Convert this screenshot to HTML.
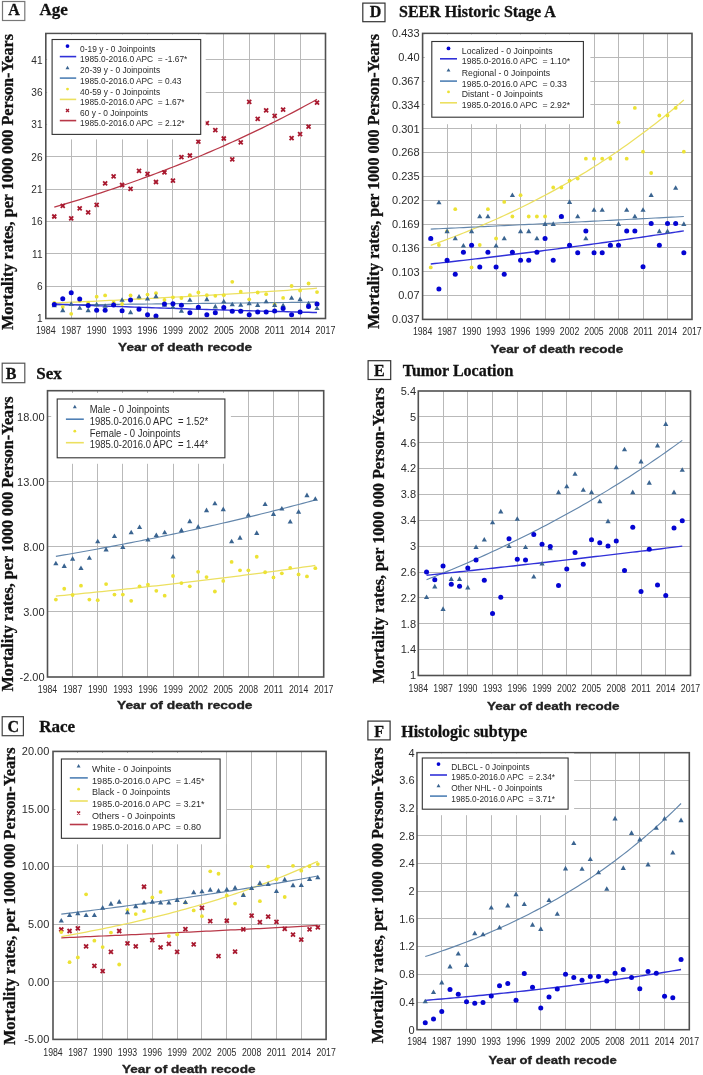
<!DOCTYPE html>
<html><head><meta charset="utf-8"><style>
html,body{margin:0;padding:0;background:#fff;}
svg{display:block;filter:blur(0.35px);}
.sb{font-family:"Liberation Serif",serif;font-weight:bold;fill:#111;stroke:#111;stroke-width:0.3px;}
.ss{font-family:"Liberation Sans",sans-serif;}
.sbold{font-family:"Liberation Sans",sans-serif;font-weight:bold;stroke:#222;stroke-width:0.35px;}
</style></head><body>
<svg width="703" height="1075" viewBox="0 0 703 1075">
<rect width="703" height="1075" fill="#fff"/>
<rect x="2.5" y="1.5" width="22.3" height="19" fill="#fff" stroke="#777" stroke-width="1.2"/>
<text x="14" y="15.4" text-anchor="middle" class="sb" font-size="16">A</text>
<text x="39.6" y="15.4" class="sb" font-size="17">Age</text>
<text transform="translate(12.9,182) rotate(-90)" x="0" y="0" text-anchor="middle" class="sb" font-size="16.2" textLength="296" lengthAdjust="spacingAndGlyphs">Mortality rates, per 1000 000 Person-Years</text>
<path d="M71.5 33.5V318.5M96.5 33.5V318.5M122.5 33.5V318.5M147.5 33.5V318.5M172.5 33.5V318.5M198.5 33.5V318.5M223.5 33.5V318.5M249.5 33.5V318.5M274.5 33.5V318.5M300.5 33.5V318.5M45.8 286.5H325.5M45.8 253.5H325.5M45.8 221.5H325.5M45.8 189.5H325.5M45.8 156.5H325.5M45.8 124.5H325.5M45.8 92.5H325.5M45.8 59.5H325.5" stroke="#b9b9b9" stroke-width="1" fill="none"/>
<text transform="translate(42.6,322.35) scale(0.92,1)" text-anchor="end" class="ss" font-size="11" fill="#2b2b2b">1</text>
<text transform="translate(42.6,290) scale(0.92,1)" text-anchor="end" class="ss" font-size="11" fill="#2b2b2b">6</text>
<text transform="translate(42.6,257.65) scale(0.92,1)" text-anchor="end" class="ss" font-size="11" fill="#2b2b2b">11</text>
<text transform="translate(42.6,225.3) scale(0.92,1)" text-anchor="end" class="ss" font-size="11" fill="#2b2b2b">16</text>
<text transform="translate(42.6,192.95) scale(0.92,1)" text-anchor="end" class="ss" font-size="11" fill="#2b2b2b">21</text>
<text transform="translate(42.6,160.6) scale(0.92,1)" text-anchor="end" class="ss" font-size="11" fill="#2b2b2b">26</text>
<text transform="translate(42.6,128.25) scale(0.92,1)" text-anchor="end" class="ss" font-size="11" fill="#2b2b2b">31</text>
<text transform="translate(42.6,95.9) scale(0.92,1)" text-anchor="end" class="ss" font-size="11" fill="#2b2b2b">36</text>
<text transform="translate(42.6,63.55) scale(0.92,1)" text-anchor="end" class="ss" font-size="11" fill="#2b2b2b">41</text>
<text x="45.8" y="334" text-anchor="middle" class="ss" font-size="10.8" fill="#2b2b2b" textLength="19.8" lengthAdjust="spacingAndGlyphs">1984</text>
<text x="71.23" y="334" text-anchor="middle" class="ss" font-size="10.8" fill="#2b2b2b" textLength="19.8" lengthAdjust="spacingAndGlyphs">1987</text>
<text x="96.65" y="334" text-anchor="middle" class="ss" font-size="10.8" fill="#2b2b2b" textLength="19.8" lengthAdjust="spacingAndGlyphs">1990</text>
<text x="122.08" y="334" text-anchor="middle" class="ss" font-size="10.8" fill="#2b2b2b" textLength="19.8" lengthAdjust="spacingAndGlyphs">1993</text>
<text x="147.51" y="334" text-anchor="middle" class="ss" font-size="10.8" fill="#2b2b2b" textLength="19.8" lengthAdjust="spacingAndGlyphs">1996</text>
<text x="172.94" y="334" text-anchor="middle" class="ss" font-size="10.8" fill="#2b2b2b" textLength="19.8" lengthAdjust="spacingAndGlyphs">1999</text>
<text x="198.36" y="334" text-anchor="middle" class="ss" font-size="10.8" fill="#2b2b2b" textLength="19.8" lengthAdjust="spacingAndGlyphs">2002</text>
<text x="223.79" y="334" text-anchor="middle" class="ss" font-size="10.8" fill="#2b2b2b" textLength="19.8" lengthAdjust="spacingAndGlyphs">2005</text>
<text x="249.22" y="334" text-anchor="middle" class="ss" font-size="10.8" fill="#2b2b2b" textLength="19.8" lengthAdjust="spacingAndGlyphs">2008</text>
<text x="274.65" y="334" text-anchor="middle" class="ss" font-size="10.8" fill="#2b2b2b" textLength="19.8" lengthAdjust="spacingAndGlyphs">2011</text>
<text x="300.07" y="334" text-anchor="middle" class="ss" font-size="10.8" fill="#2b2b2b" textLength="19.8" lengthAdjust="spacingAndGlyphs">2014</text>
<text x="325.5" y="334" text-anchor="middle" class="ss" font-size="10.8" fill="#2b2b2b" textLength="19.8" lengthAdjust="spacingAndGlyphs">2017</text>
<text x="118.1" y="351.2" class="sbold" font-size="11.2" fill="#222" textLength="134" lengthAdjust="spacingAndGlyphs">Year of death recode</text>
<polyline points="54.28,207.22 58.51,205.97 62.75,204.72 66.99,203.45 71.23,202.17 75.47,200.88 79.7,199.57 83.94,198.24 88.18,196.91 92.42,195.56 96.65,194.19 100.89,192.81 105.13,191.42 109.37,190.01 113.61,188.59 117.84,187.15 122.08,185.7 126.32,184.23 130.56,182.75 134.8,181.25 139.03,179.73 143.27,178.2 147.51,176.65 151.75,175.09 155.98,173.51 160.22,171.91 164.46,170.3 168.7,168.67 172.94,167.02 177.17,165.35 181.41,163.67 185.65,161.97 189.89,160.25 194.13,158.51 198.36,156.76 202.6,154.98 206.84,153.19 211.08,151.38 215.32,149.55 219.55,147.7 223.79,145.83 228.03,143.94 232.27,142.03 236.5,140.1 240.74,138.15 244.98,136.18 249.22,134.19 253.46,132.18 257.69,130.15 261.93,128.1 266.17,126.02 270.41,123.92 274.65,121.8 278.88,119.66 283.12,117.49 287.36,115.31 291.6,113.1 295.83,110.86 300.07,108.6 304.31,106.32 308.55,104.02 312.79,101.69 317.02,99.33" fill="none" stroke="#b83848" stroke-width="1.25"/>
<polyline points="54.28,302.97 58.51,302.79 62.75,302.6 66.99,302.42 71.23,302.23 75.47,302.04 79.7,301.85 83.94,301.66 88.18,301.47 92.42,301.27 96.65,301.07 100.89,300.87 105.13,300.67 109.37,300.47 113.61,300.27 117.84,300.06 122.08,299.86 126.32,299.65 130.56,299.44 134.8,299.22 139.03,299.01 143.27,298.79 147.51,298.58 151.75,298.36 155.98,298.14 160.22,297.91 164.46,297.69 168.7,297.46 172.94,297.23 177.17,297 181.41,296.77 185.65,296.53 189.89,296.3 194.13,296.06 198.36,295.82 202.6,295.58 206.84,295.33 211.08,295.09 215.32,294.84 219.55,294.59 223.79,294.33 228.03,294.08 232.27,293.82 236.5,293.56 240.74,293.3 244.98,293.04 249.22,292.77 253.46,292.51 257.69,292.24 261.93,291.96 266.17,291.69 270.41,291.41 274.65,291.13 278.88,290.85 283.12,290.57 287.36,290.28 291.6,289.99 295.83,289.7 300.07,289.41 304.31,289.11 308.55,288.82 312.79,288.51 317.02,288.21" fill="none" stroke="#ece060" stroke-width="1.25"/>
<polyline points="54.28,304.98 58.51,304.93 62.75,304.89 66.99,304.85 71.23,304.81 75.47,304.76 79.7,304.72 83.94,304.68 88.18,304.63 92.42,304.59 96.65,304.54 100.89,304.5 105.13,304.46 109.37,304.41 113.61,304.37 117.84,304.32 122.08,304.28 126.32,304.24 130.56,304.19 134.8,304.15 139.03,304.1 143.27,304.06 147.51,304.01 151.75,303.97 155.98,303.92 160.22,303.88 164.46,303.83 168.7,303.79 172.94,303.74 177.17,303.69 181.41,303.65 185.65,303.6 189.89,303.56 194.13,303.51 198.36,303.46 202.6,303.42 206.84,303.37 211.08,303.33 215.32,303.28 219.55,303.23 223.79,303.19 228.03,303.14 232.27,303.09 236.5,303.05 240.74,303 244.98,302.95 249.22,302.9 253.46,302.86 257.69,302.81 261.93,302.76 266.17,302.71 270.41,302.67 274.65,302.62 278.88,302.57 283.12,302.52 287.36,302.47 291.6,302.43 295.83,302.38 300.07,302.33 304.31,302.28 308.55,302.23 312.79,302.18 317.02,302.13" fill="none" stroke="#6386ab" stroke-width="1.15"/>
<polyline points="54.28,304.01 58.51,304.18 62.75,304.36 66.99,304.53 71.23,304.7 75.47,304.87 79.7,305.04 83.94,305.21 88.18,305.37 92.42,305.54 96.65,305.7 100.89,305.86 105.13,306.02 109.37,306.18 113.61,306.34 117.84,306.49 122.08,306.65 126.32,306.8 130.56,306.96 134.8,307.11 139.03,307.26 143.27,307.4 147.51,307.55 151.75,307.7 155.98,307.84 160.22,307.99 164.46,308.13 168.7,308.27 172.94,308.41 177.17,308.55 181.41,308.69 185.65,308.82 189.89,308.96 194.13,309.09 198.36,309.23 202.6,309.36 206.84,309.49 211.08,309.62 215.32,309.75 219.55,309.88 223.79,310 228.03,310.13 232.27,310.25 236.5,310.38 240.74,310.5 244.98,310.62 249.22,310.74 253.46,310.86 257.69,310.98 261.93,311.09 266.17,311.21 270.41,311.33 274.65,311.44 278.88,311.55 283.12,311.67 287.36,311.78 291.6,311.89 295.83,312 300.07,312.11 304.31,312.21 308.55,312.32 312.79,312.43 317.02,312.53" fill="none" stroke="#3030d8" stroke-width="1.4"/>
<path d="M52.28 214.5L56.28 218.5M56.28 214.5L52.28 218.5" stroke="#a8182e" stroke-width="1.8"/>
<path d="M60.75 203.9L64.75 207.9M64.75 203.9L60.75 207.9" stroke="#a8182e" stroke-width="1.8"/>
<path d="M69.23 216.3L73.23 220.3M73.23 216.3L69.23 220.3" stroke="#a8182e" stroke-width="1.8"/>
<path d="M77.7 206.4L81.7 210.4M81.7 206.4L77.7 210.4" stroke="#a8182e" stroke-width="1.8"/>
<path d="M86.18 210.3L90.18 214.3M90.18 210.3L86.18 214.3" stroke="#a8182e" stroke-width="1.8"/>
<path d="M94.65 202.8L98.65 206.8M98.65 202.8L94.65 206.8" stroke="#a8182e" stroke-width="1.8"/>
<path d="M103.13 181.3L107.13 185.3M107.13 181.3L103.13 185.3" stroke="#a8182e" stroke-width="1.8"/>
<path d="M111.61 174.4L115.61 178.4M115.61 174.4L111.61 178.4" stroke="#a8182e" stroke-width="1.8"/>
<path d="M120.08 183L124.08 187M124.08 183L120.08 187" stroke="#a8182e" stroke-width="1.8"/>
<path d="M128.56 186.8L132.56 190.8M132.56 186.8L128.56 190.8" stroke="#a8182e" stroke-width="1.8"/>
<path d="M137.03 168.9L141.03 172.9M141.03 168.9L137.03 172.9" stroke="#a8182e" stroke-width="1.8"/>
<path d="M145.51 171.9L149.51 175.9M149.51 171.9L145.51 175.9" stroke="#a8182e" stroke-width="1.8"/>
<path d="M153.98 180L157.98 184M157.98 180L153.98 184" stroke="#a8182e" stroke-width="1.8"/>
<path d="M162.46 170.4L166.46 174.4M166.46 170.4L162.46 174.4" stroke="#a8182e" stroke-width="1.8"/>
<path d="M170.94 178.7L174.94 182.7M174.94 178.7L170.94 182.7" stroke="#a8182e" stroke-width="1.8"/>
<path d="M179.41 155.2L183.41 159.2M183.41 155.2L179.41 159.2" stroke="#a8182e" stroke-width="1.8"/>
<path d="M187.89 153.5L191.89 157.5M191.89 153.5L187.89 157.5" stroke="#a8182e" stroke-width="1.8"/>
<path d="M196.36 139.7L200.36 143.7M200.36 139.7L196.36 143.7" stroke="#a8182e" stroke-width="1.8"/>
<path d="M204.84 121.1L208.84 125.1M208.84 121.1L204.84 125.1" stroke="#a8182e" stroke-width="1.8"/>
<path d="M213.32 128.1L217.32 132.1M217.32 128.1L213.32 132.1" stroke="#a8182e" stroke-width="1.8"/>
<path d="M221.79 136.5L225.79 140.5M225.79 136.5L221.79 140.5" stroke="#a8182e" stroke-width="1.8"/>
<path d="M230.27 157.4L234.27 161.4M234.27 157.4L230.27 161.4" stroke="#a8182e" stroke-width="1.8"/>
<path d="M238.74 140.3L242.74 144.3M242.74 140.3L238.74 144.3" stroke="#a8182e" stroke-width="1.8"/>
<path d="M247.22 99.8L251.22 103.8M251.22 99.8L247.22 103.8" stroke="#a8182e" stroke-width="1.8"/>
<path d="M255.69 116.8L259.69 120.8M259.69 116.8L255.69 120.8" stroke="#a8182e" stroke-width="1.8"/>
<path d="M264.17 108.3L268.17 112.3M268.17 108.3L264.17 112.3" stroke="#a8182e" stroke-width="1.8"/>
<path d="M272.65 113.8L276.65 117.8M276.65 113.8L272.65 117.8" stroke="#a8182e" stroke-width="1.8"/>
<path d="M281.12 107.7L285.12 111.7M285.12 107.7L281.12 111.7" stroke="#a8182e" stroke-width="1.8"/>
<path d="M289.6 136.2L293.6 140.2M293.6 136.2L289.6 140.2" stroke="#a8182e" stroke-width="1.8"/>
<path d="M298.07 132.2L302.07 136.2M302.07 132.2L298.07 136.2" stroke="#a8182e" stroke-width="1.8"/>
<path d="M306.55 124.7L310.55 128.7M310.55 124.7L306.55 128.7" stroke="#a8182e" stroke-width="1.8"/>
<path d="M315.02 100.6L319.02 104.6M319.02 100.6L315.02 104.6" stroke="#a8182e" stroke-width="1.8"/>
<circle cx="54.28" cy="303" r="1.9" fill="#ece234"/>
<circle cx="62.75" cy="307" r="1.9" fill="#ece234"/>
<circle cx="71.23" cy="313.8" r="1.9" fill="#ece234"/>
<circle cx="79.7" cy="300.8" r="1.9" fill="#ece234"/>
<circle cx="88.18" cy="303" r="1.9" fill="#ece234"/>
<circle cx="96.65" cy="296.7" r="1.9" fill="#ece234"/>
<circle cx="105.13" cy="295.4" r="1.9" fill="#ece234"/>
<circle cx="113.61" cy="302.4" r="1.9" fill="#ece234"/>
<circle cx="122.08" cy="304" r="1.9" fill="#ece234"/>
<circle cx="130.56" cy="295.4" r="1.9" fill="#ece234"/>
<circle cx="139.03" cy="298" r="1.9" fill="#ece234"/>
<circle cx="147.51" cy="294.6" r="1.9" fill="#ece234"/>
<circle cx="155.98" cy="293.2" r="1.9" fill="#ece234"/>
<circle cx="164.46" cy="300" r="1.9" fill="#ece234"/>
<circle cx="172.94" cy="297.3" r="1.9" fill="#ece234"/>
<circle cx="181.41" cy="298" r="1.9" fill="#ece234"/>
<circle cx="189.89" cy="295.2" r="1.9" fill="#ece234"/>
<circle cx="198.36" cy="292.5" r="1.9" fill="#ece234"/>
<circle cx="206.84" cy="295.2" r="1.9" fill="#ece234"/>
<circle cx="215.32" cy="295.8" r="1.9" fill="#ece234"/>
<circle cx="223.79" cy="295.2" r="1.9" fill="#ece234"/>
<circle cx="232.27" cy="281.8" r="1.9" fill="#ece234"/>
<circle cx="240.74" cy="291.7" r="1.9" fill="#ece234"/>
<circle cx="249.22" cy="299.3" r="1.9" fill="#ece234"/>
<circle cx="257.69" cy="292.5" r="1.9" fill="#ece234"/>
<circle cx="266.17" cy="294.2" r="1.9" fill="#ece234"/>
<circle cx="274.65" cy="304.5" r="1.9" fill="#ece234"/>
<circle cx="283.12" cy="297.9" r="1.9" fill="#ece234"/>
<circle cx="291.6" cy="286" r="1.9" fill="#ece234"/>
<circle cx="300.07" cy="290.5" r="1.9" fill="#ece234"/>
<circle cx="308.55" cy="283.5" r="1.9" fill="#ece234"/>
<circle cx="317.02" cy="292.1" r="1.9" fill="#ece234"/>
<path d="M54.28 302.74L56.88 307.34L51.68 307.34Z" fill="#3a6490"/>
<path d="M62.75 307.54L65.35 312.14L60.15 312.14Z" fill="#3a6490"/>
<path d="M71.23 301.24L73.83 305.84L68.63 305.84Z" fill="#3a6490"/>
<path d="M79.7 305.24L82.3 309.84L77.1 309.84Z" fill="#3a6490"/>
<path d="M88.18 307.54L90.78 312.14L85.58 312.14Z" fill="#3a6490"/>
<path d="M96.65 301.74L99.25 306.34L94.05 306.34Z" fill="#3a6490"/>
<path d="M105.13 303.24L107.73 307.84L102.53 307.84Z" fill="#3a6490"/>
<path d="M113.61 301.74L116.21 306.34L111.01 306.34Z" fill="#3a6490"/>
<path d="M122.08 297.24L124.68 301.84L119.48 301.84Z" fill="#3a6490"/>
<path d="M130.56 309.54L133.16 314.14L127.96 314.14Z" fill="#3a6490"/>
<path d="M139.03 293.94L141.63 298.54L136.43 298.54Z" fill="#3a6490"/>
<path d="M147.51 295.94L150.11 300.54L144.91 300.54Z" fill="#3a6490"/>
<path d="M155.98 293.54L158.58 298.14L153.38 298.14Z" fill="#3a6490"/>
<path d="M164.46 302.24L167.06 306.84L161.86 306.84Z" fill="#3a6490"/>
<path d="M172.94 304.24L175.54 308.84L170.34 308.84Z" fill="#3a6490"/>
<path d="M181.41 308.24L184.01 312.84L178.81 312.84Z" fill="#3a6490"/>
<path d="M189.89 297.24L192.49 301.84L187.29 301.84Z" fill="#3a6490"/>
<path d="M198.36 305.24L200.96 309.84L195.76 309.84Z" fill="#3a6490"/>
<path d="M206.84 296.54L209.44 301.14L204.24 301.14Z" fill="#3a6490"/>
<path d="M215.32 303.84L217.92 308.44L212.72 308.44Z" fill="#3a6490"/>
<path d="M223.79 298.64L226.39 303.24L221.19 303.24Z" fill="#3a6490"/>
<path d="M232.27 301.74L234.87 306.34L229.67 306.34Z" fill="#3a6490"/>
<path d="M240.74 302.24L243.34 306.84L238.14 306.84Z" fill="#3a6490"/>
<path d="M249.22 300.74L251.82 305.34L246.62 305.34Z" fill="#3a6490"/>
<path d="M257.69 302.34L260.29 306.94L255.09 306.94Z" fill="#3a6490"/>
<path d="M266.17 298.64L268.77 303.24L263.57 303.24Z" fill="#3a6490"/>
<path d="M274.65 302.34L277.25 306.94L272.05 306.94Z" fill="#3a6490"/>
<path d="M283.12 302.74L285.72 307.34L280.52 307.34Z" fill="#3a6490"/>
<path d="M291.6 295.14L294.2 299.74L289 299.74Z" fill="#3a6490"/>
<path d="M300.07 296.54L302.67 301.14L297.47 301.14Z" fill="#3a6490"/>
<path d="M308.55 300.74L311.15 305.34L305.95 305.34Z" fill="#3a6490"/>
<path d="M317.02 305.44L319.62 310.04L314.42 310.04Z" fill="#3a6490"/>
<circle cx="54.28" cy="304.5" r="2.5" fill="#0404d2"/>
<circle cx="62.75" cy="298.7" r="2.5" fill="#0404d2"/>
<circle cx="71.23" cy="292.7" r="2.5" fill="#0404d2"/>
<circle cx="79.7" cy="298.9" r="2.5" fill="#0404d2"/>
<circle cx="88.18" cy="305.5" r="2.5" fill="#0404d2"/>
<circle cx="96.65" cy="310.3" r="2.5" fill="#0404d2"/>
<circle cx="105.13" cy="310.3" r="2.5" fill="#0404d2"/>
<circle cx="113.61" cy="304.9" r="2.5" fill="#0404d2"/>
<circle cx="122.08" cy="310.7" r="2.5" fill="#0404d2"/>
<circle cx="130.56" cy="300" r="2.5" fill="#0404d2"/>
<circle cx="139.03" cy="309.2" r="2.5" fill="#0404d2"/>
<circle cx="147.51" cy="314.8" r="2.5" fill="#0404d2"/>
<circle cx="155.98" cy="315.9" r="2.5" fill="#0404d2"/>
<circle cx="164.46" cy="304.1" r="2.5" fill="#0404d2"/>
<circle cx="172.94" cy="303.7" r="2.5" fill="#0404d2"/>
<circle cx="181.41" cy="305.3" r="2.5" fill="#0404d2"/>
<circle cx="189.89" cy="312.8" r="2.5" fill="#0404d2"/>
<circle cx="198.36" cy="307.2" r="2.5" fill="#0404d2"/>
<circle cx="206.84" cy="314.8" r="2.5" fill="#0404d2"/>
<circle cx="215.32" cy="312.8" r="2.5" fill="#0404d2"/>
<circle cx="223.79" cy="307.6" r="2.5" fill="#0404d2"/>
<circle cx="232.27" cy="311.3" r="2.5" fill="#0404d2"/>
<circle cx="240.74" cy="311.3" r="2.5" fill="#0404d2"/>
<circle cx="249.22" cy="314.8" r="2.5" fill="#0404d2"/>
<circle cx="257.69" cy="311.9" r="2.5" fill="#0404d2"/>
<circle cx="266.17" cy="311.9" r="2.5" fill="#0404d2"/>
<circle cx="274.65" cy="311.1" r="2.5" fill="#0404d2"/>
<circle cx="283.12" cy="308.6" r="2.5" fill="#0404d2"/>
<circle cx="291.6" cy="314.8" r="2.5" fill="#0404d2"/>
<circle cx="300.07" cy="311.9" r="2.5" fill="#0404d2"/>
<circle cx="308.55" cy="306.6" r="2.5" fill="#0404d2"/>
<circle cx="317.02" cy="304.1" r="2.5" fill="#0404d2"/>
<rect x="45.8" y="33.5" width="279.7" height="285" fill="none" stroke="#505050" stroke-width="1.6"/>
<rect x="47.1" y="34.5" width="158.6" height="104.9" fill="#fff"/>
<rect x="52.1" y="39.5" width="148.6" height="94.9" fill="#fff" stroke="#333" stroke-width="1.1"/>
<circle cx="67.5" cy="46.1" r="1.88" fill="#0404d2"/>
<path d="M59.8 56.6H76.2" stroke="#3030d8" stroke-width="1.6"/>
<text transform="translate(80.1,51.5) scale(0.93,1)" class="ss" font-size="9" fill="#2b2b2b" xml:space="preserve">0-19 y - 0 Joinpoints</text>
<text transform="translate(80.1,62) scale(0.93,1)" class="ss" font-size="9" fill="#2b2b2b" xml:space="preserve">1985.0-2016.0 APC  = -1.67*</text>
<path d="M67.5 65.83L69.45 69.28L65.55 69.28Z" fill="#3a6490"/>
<path d="M59.8 78.1H76.2" stroke="#4f80b5" stroke-width="1.6"/>
<text transform="translate(80.1,73.31) scale(0.93,1)" class="ss" font-size="9" fill="#2b2b2b" xml:space="preserve">20-39 y - 0 Joinpoints</text>
<text transform="translate(80.1,83.51) scale(0.93,1)" class="ss" font-size="9" fill="#2b2b2b" xml:space="preserve">1985.0-2016.0 APC  = 0.43</text>
<circle cx="67.5" cy="89.1" r="1.42" fill="#ece234"/>
<path d="M59.8 99.4H76.2" stroke="#ece060" stroke-width="1.6"/>
<text transform="translate(80.1,94.51) scale(0.93,1)" class="ss" font-size="9" fill="#2b2b2b" xml:space="preserve">40-59 y - 0 Joinpoints</text>
<text transform="translate(80.1,104.81) scale(0.93,1)" class="ss" font-size="9" fill="#2b2b2b" xml:space="preserve">1985.0-2016.0 APC  = 1.67*</text>
<path d="M66 108.9L69 111.9M69 108.9L66 111.9" stroke="#a8182e" stroke-width="1.35"/>
<path d="M59.8 120.6H76.2" stroke="#b83848" stroke-width="1.6"/>
<text transform="translate(80.1,115.81) scale(0.93,1)" class="ss" font-size="9" fill="#2b2b2b" xml:space="preserve">60 y - 0 Joinpoints</text>
<text transform="translate(80.1,126.01) scale(0.93,1)" class="ss" font-size="9" fill="#2b2b2b" xml:space="preserve">1985.0-2016.0 APC  = 2.12*</text>
<rect x="2.2" y="363.2" width="22.6" height="19.5" fill="#fff" stroke="#555" stroke-width="1.2"/>
<text x="11.1" y="378.9" text-anchor="middle" class="sb" font-size="16">B</text>
<text x="36.2" y="378.9" class="sb" font-size="17">Sex</text>
<text transform="translate(13.2,543.95) rotate(-90)" x="0" y="0" text-anchor="middle" class="sb" font-size="16.2" textLength="295.1" lengthAdjust="spacingAndGlyphs">Mortality rates, per 1000 000 Person-Years</text>
<path d="M72.5 390.7V677M97.5 390.7V677M122.5 390.7V677M147.5 390.7V677M173.5 390.7V677M198.5 390.7V677M223.5 390.7V677M248.5 390.7V677M273.5 390.7V677M298.5 390.7V677M47.5 416.5H323.7M47.5 481.5H323.7M47.5 546.5H323.7M47.5 611.5H323.7" stroke="#b9b9b9" stroke-width="1" fill="none"/>
<text transform="translate(44.6,420.58) scale(1.0,1)" text-anchor="end" class="ss" font-size="11" fill="#2b2b2b">18.00</text>
<text transform="translate(44.6,485.65) scale(1.0,1)" text-anchor="end" class="ss" font-size="11" fill="#2b2b2b">13.00</text>
<text transform="translate(44.6,550.71) scale(1.0,1)" text-anchor="end" class="ss" font-size="11" fill="#2b2b2b">8.00</text>
<text transform="translate(44.6,615.78) scale(1.0,1)" text-anchor="end" class="ss" font-size="11" fill="#2b2b2b">3.00</text>
<text transform="translate(44.6,680.85) scale(1.0,1)" text-anchor="end" class="ss" font-size="11" fill="#2b2b2b">-2.00</text>
<text x="47.5" y="692.5" text-anchor="middle" class="ss" font-size="10.8" fill="#2b2b2b" textLength="19.4" lengthAdjust="spacingAndGlyphs">1984</text>
<text x="72.61" y="692.5" text-anchor="middle" class="ss" font-size="10.8" fill="#2b2b2b" textLength="19.4" lengthAdjust="spacingAndGlyphs">1987</text>
<text x="97.72" y="692.5" text-anchor="middle" class="ss" font-size="10.8" fill="#2b2b2b" textLength="19.4" lengthAdjust="spacingAndGlyphs">1990</text>
<text x="122.83" y="692.5" text-anchor="middle" class="ss" font-size="10.8" fill="#2b2b2b" textLength="19.4" lengthAdjust="spacingAndGlyphs">1993</text>
<text x="147.94" y="692.5" text-anchor="middle" class="ss" font-size="10.8" fill="#2b2b2b" textLength="19.4" lengthAdjust="spacingAndGlyphs">1996</text>
<text x="173.05" y="692.5" text-anchor="middle" class="ss" font-size="10.8" fill="#2b2b2b" textLength="19.4" lengthAdjust="spacingAndGlyphs">1999</text>
<text x="198.15" y="692.5" text-anchor="middle" class="ss" font-size="10.8" fill="#2b2b2b" textLength="19.4" lengthAdjust="spacingAndGlyphs">2002</text>
<text x="223.26" y="692.5" text-anchor="middle" class="ss" font-size="10.8" fill="#2b2b2b" textLength="19.4" lengthAdjust="spacingAndGlyphs">2005</text>
<text x="248.37" y="692.5" text-anchor="middle" class="ss" font-size="10.8" fill="#2b2b2b" textLength="19.4" lengthAdjust="spacingAndGlyphs">2008</text>
<text x="273.48" y="692.5" text-anchor="middle" class="ss" font-size="10.8" fill="#2b2b2b" textLength="19.4" lengthAdjust="spacingAndGlyphs">2011</text>
<text x="298.59" y="692.5" text-anchor="middle" class="ss" font-size="10.8" fill="#2b2b2b" textLength="19.4" lengthAdjust="spacingAndGlyphs">2014</text>
<text x="323.7" y="692.5" text-anchor="middle" class="ss" font-size="10.8" fill="#2b2b2b" textLength="19.4" lengthAdjust="spacingAndGlyphs">2017</text>
<text x="117" y="709.3" class="sbold" font-size="11.2" fill="#222" textLength="135.5" lengthAdjust="spacingAndGlyphs">Year of death recode</text>
<polyline points="55.87,596.06 60.05,595.66 64.24,595.26 68.42,594.86 72.61,594.46 76.79,594.06 80.98,593.65 85.16,593.24 89.35,592.82 93.53,592.41 97.72,591.99 101.9,591.56 106.09,591.14 110.27,590.71 114.46,590.27 118.64,589.84 122.83,589.4 127.01,588.96 131.2,588.51 135.38,588.07 139.57,587.61 143.75,587.16 147.94,586.7 152.12,586.24 156.31,585.78 160.49,585.31 164.68,584.84 168.86,584.36 173.05,583.89 177.23,583.4 181.42,582.92 185.6,582.43 189.78,581.94 193.97,581.44 198.15,580.95 202.34,580.44 206.52,579.94 210.71,579.43 214.89,578.91 219.08,578.4 223.26,577.88 227.45,577.35 231.63,576.82 235.82,576.29 240,575.76 244.19,575.22 248.37,574.67 252.56,574.13 256.74,573.57 260.93,573.02 265.11,572.46 269.3,571.9 273.48,571.33 277.67,570.76 281.85,570.18 286.04,569.6 290.22,569.02 294.41,568.43 298.59,567.84 302.78,567.24 306.96,566.64 311.15,566.04 315.33,565.43" fill="none" stroke="#ece060" stroke-width="1.25"/>
<polyline points="55.87,556.36 60.05,555.65 64.24,554.93 68.42,554.2 72.61,553.47 76.79,552.73 80.98,551.98 85.16,551.23 89.35,550.48 93.53,549.72 97.72,548.95 101.9,548.18 106.09,547.4 110.27,546.62 114.46,545.83 118.64,545.03 122.83,544.23 127.01,543.42 131.2,542.61 135.38,541.79 139.57,540.96 143.75,540.13 147.94,539.29 152.12,538.44 156.31,537.59 160.49,536.73 164.68,535.87 168.86,534.99 173.05,534.12 177.23,533.23 181.42,532.34 185.6,531.44 189.78,530.54 193.97,529.62 198.15,528.71 202.34,527.78 206.52,526.85 210.71,525.91 214.89,524.96 219.08,524.01 223.26,523.04 227.45,522.08 231.63,521.1 235.82,520.12 240,519.13 244.19,518.13 248.37,517.12 252.56,516.11 256.74,515.09 260.93,514.06 265.11,513.02 269.3,511.98 273.48,510.93 277.67,509.87 281.85,508.8 286.04,507.72 290.22,506.64 294.41,505.54 298.59,504.44 302.78,503.33 306.96,502.21 311.15,501.09 315.33,499.95" fill="none" stroke="#6386ab" stroke-width="1.15"/>
<circle cx="55.87" cy="599.57" r="1.9" fill="#ece234"/>
<circle cx="64.24" cy="588.77" r="1.9" fill="#ece234"/>
<circle cx="72.61" cy="595.01" r="1.9" fill="#ece234"/>
<circle cx="80.98" cy="585.64" r="1.9" fill="#ece234"/>
<circle cx="89.35" cy="599.57" r="1.9" fill="#ece234"/>
<circle cx="97.72" cy="600.22" r="1.9" fill="#ece234"/>
<circle cx="106.09" cy="584.08" r="1.9" fill="#ece234"/>
<circle cx="114.46" cy="594.62" r="1.9" fill="#ece234"/>
<circle cx="122.83" cy="594.62" r="1.9" fill="#ece234"/>
<circle cx="131.2" cy="600.87" r="1.9" fill="#ece234"/>
<circle cx="139.57" cy="586.29" r="1.9" fill="#ece234"/>
<circle cx="147.94" cy="584.73" r="1.9" fill="#ece234"/>
<circle cx="156.31" cy="590.85" r="1.9" fill="#ece234"/>
<circle cx="164.68" cy="595.66" r="1.9" fill="#ece234"/>
<circle cx="173.05" cy="576.01" r="1.9" fill="#ece234"/>
<circle cx="181.42" cy="583.04" r="1.9" fill="#ece234"/>
<circle cx="189.78" cy="586.29" r="1.9" fill="#ece234"/>
<circle cx="198.15" cy="571.85" r="1.9" fill="#ece234"/>
<circle cx="206.52" cy="577.06" r="1.9" fill="#ece234"/>
<circle cx="214.89" cy="591.5" r="1.9" fill="#ece234"/>
<circle cx="223.26" cy="580.96" r="1.9" fill="#ece234"/>
<circle cx="231.63" cy="561.96" r="1.9" fill="#ece234"/>
<circle cx="240" cy="570.29" r="1.9" fill="#ece234"/>
<circle cx="248.37" cy="570.29" r="1.9" fill="#ece234"/>
<circle cx="256.74" cy="556.75" r="1.9" fill="#ece234"/>
<circle cx="265.11" cy="572.24" r="1.9" fill="#ece234"/>
<circle cx="273.48" cy="577.45" r="1.9" fill="#ece234"/>
<circle cx="281.85" cy="573.28" r="1.9" fill="#ece234"/>
<circle cx="290.22" cy="567.82" r="1.9" fill="#ece234"/>
<circle cx="298.59" cy="574.45" r="1.9" fill="#ece234"/>
<circle cx="306.96" cy="576.4" r="1.9" fill="#ece234"/>
<circle cx="315.33" cy="568.21" r="1.9" fill="#ece234"/>
<path d="M55.87 560.76L58.47 565.36L53.27 565.36Z" fill="#3a6490"/>
<path d="M64.24 563.36L66.84 567.96L61.64 567.96Z" fill="#3a6490"/>
<path d="M72.61 556.08L75.21 560.68L70.01 560.68Z" fill="#3a6490"/>
<path d="M80.98 565.45L83.58 570.05L78.38 570.05Z" fill="#3a6490"/>
<path d="M89.35 555.17L91.95 559.77L86.75 559.77Z" fill="#3a6490"/>
<path d="M97.72 538.64L100.32 543.24L95.12 543.24Z" fill="#3a6490"/>
<path d="M106.09 546.84L108.69 551.44L103.49 551.44Z" fill="#3a6490"/>
<path d="M114.46 533.43L117.06 538.03L111.86 538.03Z" fill="#3a6490"/>
<path d="M122.83 544.36L125.43 548.96L120.23 548.96Z" fill="#3a6490"/>
<path d="M131.2 529.66L133.8 534.26L128.6 534.26Z" fill="#3a6490"/>
<path d="M139.57 524.45L142.17 529.05L136.97 529.05Z" fill="#3a6490"/>
<path d="M147.94 536.95L150.54 541.55L145.34 541.55Z" fill="#3a6490"/>
<path d="M156.31 532.39L158.91 536.99L153.71 536.99Z" fill="#3a6490"/>
<path d="M164.68 529.66L167.28 534.26L162.08 534.26Z" fill="#3a6490"/>
<path d="M173.05 553.99L175.65 558.59L170.45 558.59Z" fill="#3a6490"/>
<path d="M181.42 527.58L184.02 532.18L178.82 532.18Z" fill="#3a6490"/>
<path d="M189.78 518.6L192.38 523.2L187.18 523.2Z" fill="#3a6490"/>
<path d="M198.15 524.06L200.75 528.66L195.55 528.66Z" fill="#3a6490"/>
<path d="M206.52 507.54L209.12 512.14L203.92 512.14Z" fill="#3a6490"/>
<path d="M214.89 500.77L217.49 505.37L212.29 505.37Z" fill="#3a6490"/>
<path d="M223.26 506.62L225.86 511.22L220.66 511.22Z" fill="#3a6490"/>
<path d="M231.63 538.64L234.23 543.24L229.03 543.24Z" fill="#3a6490"/>
<path d="M240 535.12L242.6 539.72L237.4 539.72Z" fill="#3a6490"/>
<path d="M248.37 512.22L250.97 516.82L245.77 516.82Z" fill="#3a6490"/>
<path d="M256.74 530.31L259.34 534.91L254.14 534.91Z" fill="#3a6490"/>
<path d="M265.11 501.42L267.71 506.02L262.51 506.02Z" fill="#3a6490"/>
<path d="M273.48 511.31L276.08 515.91L270.88 515.91Z" fill="#3a6490"/>
<path d="M281.85 505.97L284.45 510.57L279.25 510.57Z" fill="#3a6490"/>
<path d="M290.22 518.99L292.82 523.59L287.62 523.59Z" fill="#3a6490"/>
<path d="M298.59 509.1L301.19 513.7L295.99 513.7Z" fill="#3a6490"/>
<path d="M306.96 492.57L309.56 497.17L304.36 497.17Z" fill="#3a6490"/>
<path d="M315.33 496.21L317.93 500.81L312.73 500.81Z" fill="#3a6490"/>
<rect x="47.5" y="390.7" width="276.2" height="286.3" fill="none" stroke="#505050" stroke-width="1.6"/>
<rect x="51.2" y="393" width="179.7" height="70.8" fill="#fff"/>
<rect x="57.2" y="399" width="167.7" height="58.8" fill="#fff" stroke="#333" stroke-width="1.1"/>
<path d="M74.8 404.83L76.75 408.28L72.85 408.28Z" fill="#3a6490"/>
<path d="M65.9 419.2H83.8" stroke="#4f80b5" stroke-width="1.6"/>
<text transform="translate(89.7,412.65) scale(0.95,1)" class="ss" font-size="10" fill="#2b2b2b" xml:space="preserve">Male - 0 Joinpoints</text>
<text transform="translate(89.7,424.95) scale(0.95,1)" class="ss" font-size="10" fill="#2b2b2b" xml:space="preserve">1985.0-2016.0 APC  = 1.52*</text>
<circle cx="74.8" cy="431.2" r="1.42" fill="#ece234"/>
<path d="M65.9 442.7H83.8" stroke="#ece060" stroke-width="1.6"/>
<text transform="translate(89.7,436.95) scale(0.95,1)" class="ss" font-size="10" fill="#2b2b2b" xml:space="preserve">Female - 0 Joinpoints</text>
<text transform="translate(89.7,448.45) scale(0.95,1)" class="ss" font-size="10" fill="#2b2b2b" xml:space="preserve">1985.0-2016.0 APC  = 1.44*</text>
<rect x="2.2" y="716.7" width="21.2" height="19" fill="#fff" stroke="#444" stroke-width="1.2"/>
<text x="13.25" y="731.6" text-anchor="middle" class="sb" font-size="16">C</text>
<text x="39.3" y="731.6" class="sb" font-size="17">Race</text>
<text transform="translate(14.9,896.2) rotate(-90)" x="0" y="0" text-anchor="middle" class="sb" font-size="16.2" textLength="297.6" lengthAdjust="spacingAndGlyphs">Mortality rates, per 1000 000 Person-Years</text>
<path d="M77.5 751.4V1039.4M102.5 751.4V1039.4M127.5 751.4V1039.4M152.5 751.4V1039.4M177.5 751.4V1039.4M201.5 751.4V1039.4M226.5 751.4V1039.4M251.5 751.4V1039.4M276.5 751.4V1039.4M301.5 751.4V1039.4M53 809.5H326.1M53 866.5H326.1M53 924.5H326.1M53 981.5H326.1" stroke="#b9b9b9" stroke-width="1" fill="none"/>
<text transform="translate(49.3,755.25) scale(1.0,1)" text-anchor="end" class="ss" font-size="11" fill="#2b2b2b">20.00</text>
<text transform="translate(49.3,812.85) scale(1.0,1)" text-anchor="end" class="ss" font-size="11" fill="#2b2b2b">15.00</text>
<text transform="translate(49.3,870.45) scale(1.0,1)" text-anchor="end" class="ss" font-size="11" fill="#2b2b2b">10.00</text>
<text transform="translate(49.3,928.05) scale(1.0,1)" text-anchor="end" class="ss" font-size="11" fill="#2b2b2b">5.00</text>
<text transform="translate(49.3,985.65) scale(1.0,1)" text-anchor="end" class="ss" font-size="11" fill="#2b2b2b">0.00</text>
<text transform="translate(49.3,1043.25) scale(1.0,1)" text-anchor="end" class="ss" font-size="11" fill="#2b2b2b">-5.00</text>
<text x="53" y="1055.5" text-anchor="middle" class="ss" font-size="10.8" fill="#2b2b2b" textLength="19.4" lengthAdjust="spacingAndGlyphs">1984</text>
<text x="77.83" y="1055.5" text-anchor="middle" class="ss" font-size="10.8" fill="#2b2b2b" textLength="19.4" lengthAdjust="spacingAndGlyphs">1987</text>
<text x="102.65" y="1055.5" text-anchor="middle" class="ss" font-size="10.8" fill="#2b2b2b" textLength="19.4" lengthAdjust="spacingAndGlyphs">1990</text>
<text x="127.48" y="1055.5" text-anchor="middle" class="ss" font-size="10.8" fill="#2b2b2b" textLength="19.4" lengthAdjust="spacingAndGlyphs">1993</text>
<text x="152.31" y="1055.5" text-anchor="middle" class="ss" font-size="10.8" fill="#2b2b2b" textLength="19.4" lengthAdjust="spacingAndGlyphs">1996</text>
<text x="177.14" y="1055.5" text-anchor="middle" class="ss" font-size="10.8" fill="#2b2b2b" textLength="19.4" lengthAdjust="spacingAndGlyphs">1999</text>
<text x="201.96" y="1055.5" text-anchor="middle" class="ss" font-size="10.8" fill="#2b2b2b" textLength="19.4" lengthAdjust="spacingAndGlyphs">2002</text>
<text x="226.79" y="1055.5" text-anchor="middle" class="ss" font-size="10.8" fill="#2b2b2b" textLength="19.4" lengthAdjust="spacingAndGlyphs">2005</text>
<text x="251.62" y="1055.5" text-anchor="middle" class="ss" font-size="10.8" fill="#2b2b2b" textLength="19.4" lengthAdjust="spacingAndGlyphs">2008</text>
<text x="276.45" y="1055.5" text-anchor="middle" class="ss" font-size="10.8" fill="#2b2b2b" textLength="19.4" lengthAdjust="spacingAndGlyphs">2011</text>
<text x="301.27" y="1055.5" text-anchor="middle" class="ss" font-size="10.8" fill="#2b2b2b" textLength="19.4" lengthAdjust="spacingAndGlyphs">2014</text>
<text x="326.1" y="1055.5" text-anchor="middle" class="ss" font-size="10.8" fill="#2b2b2b" textLength="19.4" lengthAdjust="spacingAndGlyphs">2017</text>
<text x="121.9" y="1072.8" class="sbold" font-size="11.2" fill="#222" textLength="133.6" lengthAdjust="spacingAndGlyphs">Year of death recode</text>
<polyline points="61.28,937.79 65.41,937.62 69.55,937.44 73.69,937.26 77.83,937.09 81.97,936.91 86.1,936.73 90.24,936.55 94.38,936.37 98.52,936.19 102.65,936 106.79,935.82 110.93,935.64 115.07,935.45 119.21,935.27 123.34,935.08 127.48,934.9 131.62,934.71 135.76,934.52 139.9,934.33 144.03,934.14 148.17,933.95 152.31,933.76 156.45,933.57 160.58,933.38 164.72,933.18 168.86,932.99 173,932.8 177.14,932.6 181.27,932.4 185.41,932.21 189.55,932.01 193.69,931.81 197.83,931.61 201.96,931.41 206.1,931.21 210.24,931.01 214.38,930.8 218.52,930.6 222.65,930.4 226.79,930.19 230.93,929.98 235.07,929.78 239.2,929.57 243.34,929.36 247.48,929.15 251.62,928.94 255.76,928.73 259.89,928.52 264.03,928.31 268.17,928.09 272.31,927.88 276.45,927.66 280.58,927.45 284.72,927.23 288.86,927.01 293,926.79 297.13,926.57 301.27,926.35 305.41,926.13 309.55,925.91 313.69,925.69 317.82,925.46" fill="none" stroke="#b83848" stroke-width="1.25"/>
<polyline points="61.28,936.53 65.41,935.81 69.55,935.07 73.69,934.33 77.83,933.57 81.97,932.81 86.1,932.03 90.24,931.23 94.38,930.43 98.52,929.61 102.65,928.78 106.79,927.93 110.93,927.08 115.07,926.2 119.21,925.32 123.34,924.42 127.48,923.51 131.62,922.58 135.76,921.64 139.9,920.68 144.03,919.7 148.17,918.72 152.31,917.71 156.45,916.69 160.58,915.65 164.72,914.6 168.86,913.53 173,912.44 177.14,911.34 181.27,910.22 185.41,909.08 189.55,907.92 193.69,906.74 197.83,905.55 201.96,904.33 206.1,903.1 210.24,901.85 214.38,900.57 218.52,899.28 222.65,897.97 226.79,896.63 230.93,895.28 235.07,893.9 239.2,892.5 243.34,891.08 247.48,889.63 251.62,888.16 255.76,886.67 259.89,885.16 264.03,883.62 268.17,882.06 272.31,880.47 276.45,878.85 280.58,877.21 284.72,875.55 288.86,873.86 293,872.14 297.13,870.39 301.27,868.62 305.41,866.82 309.55,864.99 313.69,863.12 317.82,861.24" fill="none" stroke="#ece060" stroke-width="1.25"/>
<polyline points="61.28,914.06 65.41,913.57 69.55,913.08 73.69,912.58 77.83,912.08 81.97,911.58 86.1,911.07 90.24,910.56 94.38,910.05 98.52,909.53 102.65,909.01 106.79,908.48 110.93,907.95 115.07,907.42 119.21,906.88 123.34,906.34 127.48,905.79 131.62,905.25 135.76,904.69 139.9,904.14 144.03,903.57 148.17,903.01 152.31,902.44 156.45,901.87 160.58,901.29 164.72,900.71 168.86,900.12 173,899.53 177.14,898.94 181.27,898.34 185.41,897.74 189.55,897.13 193.69,896.52 197.83,895.9 201.96,895.28 206.1,894.66 210.24,894.03 214.38,893.39 218.52,892.75 222.65,892.11 226.79,891.46 230.93,890.81 235.07,890.15 239.2,889.49 243.34,888.82 247.48,888.15 251.62,887.47 255.76,886.79 259.89,886.11 264.03,885.42 268.17,884.72 272.31,884.02 276.45,883.31 280.58,882.6 284.72,881.88 288.86,881.16 293,880.44 297.13,879.7 301.27,878.97 305.41,878.22 309.55,877.47 313.69,876.72 317.82,875.96" fill="none" stroke="#6386ab" stroke-width="1.15"/>
<path d="M59.28 927.5L63.28 931.5M63.28 927.5L59.28 931.5" stroke="#a8182e" stroke-width="1.8"/>
<path d="M67.55 929L71.55 933M71.55 929L67.55 933" stroke="#a8182e" stroke-width="1.8"/>
<path d="M75.83 926.35L79.83 930.35M79.83 926.35L75.83 930.35" stroke="#a8182e" stroke-width="1.8"/>
<path d="M84.1 944.43L88.1 948.43M88.1 944.43L84.1 948.43" stroke="#a8182e" stroke-width="1.8"/>
<path d="M92.38 963.9L96.38 967.9M96.38 963.9L92.38 967.9" stroke="#a8182e" stroke-width="1.8"/>
<path d="M100.65 969.09L104.65 973.09M104.65 969.09L100.65 973.09" stroke="#a8182e" stroke-width="1.8"/>
<path d="M108.93 949.96L112.93 953.96M112.93 949.96L108.93 953.96" stroke="#a8182e" stroke-width="1.8"/>
<path d="M117.21 929L121.21 933M121.21 929L117.21 933" stroke="#a8182e" stroke-width="1.8"/>
<path d="M125.48 941.32L129.48 945.32M129.48 941.32L125.48 945.32" stroke="#a8182e" stroke-width="1.8"/>
<path d="M133.76 944.43L137.76 948.43M137.76 944.43L133.76 948.43" stroke="#a8182e" stroke-width="1.8"/>
<path d="M142.03 884.76L146.03 888.76M146.03 884.76L142.03 888.76" stroke="#a8182e" stroke-width="1.8"/>
<path d="M150.31 938.21L154.31 942.21M154.31 938.21L150.31 942.21" stroke="#a8182e" stroke-width="1.8"/>
<path d="M158.58 945.47L162.58 949.47M162.58 945.47L158.58 949.47" stroke="#a8182e" stroke-width="1.8"/>
<path d="M166.86 941.78L170.86 945.78M170.86 941.78L166.86 945.78" stroke="#a8182e" stroke-width="1.8"/>
<path d="M175.14 949.96L179.14 953.96M179.14 949.96L175.14 953.96" stroke="#a8182e" stroke-width="1.8"/>
<path d="M183.41 927.15L187.41 931.15M187.41 927.15L183.41 931.15" stroke="#a8182e" stroke-width="1.8"/>
<path d="M191.69 942.36L195.69 946.36M195.69 942.36L191.69 946.36" stroke="#a8182e" stroke-width="1.8"/>
<path d="M199.96 905.96L203.96 909.96M203.96 905.96L199.96 909.96" stroke="#a8182e" stroke-width="1.8"/>
<path d="M208.24 919.2L212.24 923.2M212.24 919.2L208.24 923.2" stroke="#a8182e" stroke-width="1.8"/>
<path d="M216.52 954.23L220.52 958.23M220.52 954.23L216.52 958.23" stroke="#a8182e" stroke-width="1.8"/>
<path d="M224.79 918.74L228.79 922.74M228.79 918.74L224.79 922.74" stroke="#a8182e" stroke-width="1.8"/>
<path d="M233.07 949.62L237.07 953.62M237.07 949.62L233.07 953.62" stroke="#a8182e" stroke-width="1.8"/>
<path d="M241.34 927.38L245.34 931.38M245.34 927.38L241.34 931.38" stroke="#a8182e" stroke-width="1.8"/>
<path d="M249.62 913.56L253.62 917.56M253.62 913.56L249.62 917.56" stroke="#a8182e" stroke-width="1.8"/>
<path d="M257.89 920.13L261.89 924.13M261.89 920.13L257.89 924.13" stroke="#a8182e" stroke-width="1.8"/>
<path d="M266.17 914.6L270.17 918.6M270.17 914.6L266.17 918.6" stroke="#a8182e" stroke-width="1.8"/>
<path d="M274.45 919.78L278.45 923.78M278.45 919.78L274.45 923.78" stroke="#a8182e" stroke-width="1.8"/>
<path d="M282.72 926.92L286.72 930.92M286.72 926.92L282.72 930.92" stroke="#a8182e" stroke-width="1.8"/>
<path d="M291 932.68L295 936.68M295 932.68L291 936.68" stroke="#a8182e" stroke-width="1.8"/>
<path d="M299.27 937.64L303.27 941.64M303.27 937.64L299.27 941.64" stroke="#a8182e" stroke-width="1.8"/>
<path d="M307.55 927.38L311.55 931.38M311.55 927.38L307.55 931.38" stroke="#a8182e" stroke-width="1.8"/>
<path d="M315.82 925.31L319.82 929.31M319.82 925.31L315.82 929.31" stroke="#a8182e" stroke-width="1.8"/>
<circle cx="61.28" cy="932.03" r="1.9" fill="#ece234"/>
<circle cx="69.55" cy="962.22" r="1.9" fill="#ece234"/>
<circle cx="77.83" cy="957.38" r="1.9" fill="#ece234"/>
<circle cx="86.1" cy="894.36" r="1.9" fill="#ece234"/>
<circle cx="94.38" cy="940.67" r="1.9" fill="#ece234"/>
<circle cx="102.65" cy="947.12" r="1.9" fill="#ece234"/>
<circle cx="110.93" cy="932.61" r="1.9" fill="#ece234"/>
<circle cx="119.21" cy="964.52" r="1.9" fill="#ece234"/>
<circle cx="127.48" cy="909.8" r="1.9" fill="#ece234"/>
<circle cx="135.76" cy="914.06" r="1.9" fill="#ece234"/>
<circle cx="144.03" cy="911.07" r="1.9" fill="#ece234"/>
<circle cx="152.31" cy="897.47" r="1.9" fill="#ece234"/>
<circle cx="160.58" cy="891.94" r="1.9" fill="#ece234"/>
<circle cx="168.86" cy="936.07" r="1.9" fill="#ece234"/>
<circle cx="177.14" cy="934.45" r="1.9" fill="#ece234"/>
<circle cx="185.41" cy="902.66" r="1.9" fill="#ece234"/>
<circle cx="193.69" cy="910.38" r="1.9" fill="#ece234"/>
<circle cx="201.96" cy="916.14" r="1.9" fill="#ece234"/>
<circle cx="210.24" cy="871.32" r="1.9" fill="#ece234"/>
<circle cx="218.52" cy="873.74" r="1.9" fill="#ece234"/>
<circle cx="226.79" cy="895.4" r="1.9" fill="#ece234"/>
<circle cx="235.07" cy="903.58" r="1.9" fill="#ece234"/>
<circle cx="243.34" cy="895.05" r="1.9" fill="#ece234"/>
<circle cx="251.62" cy="866.6" r="1.9" fill="#ece234"/>
<circle cx="259.89" cy="901.16" r="1.9" fill="#ece234"/>
<circle cx="268.17" cy="866.6" r="1.9" fill="#ece234"/>
<circle cx="276.45" cy="879.16" r="1.9" fill="#ece234"/>
<circle cx="284.72" cy="897.01" r="1.9" fill="#ece234"/>
<circle cx="293" cy="865.79" r="1.9" fill="#ece234"/>
<circle cx="301.27" cy="870.63" r="1.9" fill="#ece234"/>
<circle cx="309.55" cy="866.25" r="1.9" fill="#ece234"/>
<circle cx="317.82" cy="864.07" r="1.9" fill="#ece234"/>
<path d="M61.28 917.98L63.88 922.58L58.68 922.58Z" fill="#3a6490"/>
<path d="M69.55 912.45L72.15 917.05L66.95 917.05Z" fill="#3a6490"/>
<path d="M77.83 910.73L80.43 915.33L75.23 915.33Z" fill="#3a6490"/>
<path d="M86.1 912.45L88.7 917.05L83.5 917.05Z" fill="#3a6490"/>
<path d="M94.38 912.45L96.98 917.05L91.78 917.05Z" fill="#3a6490"/>
<path d="M102.65 905.08L105.25 909.68L100.05 909.68Z" fill="#3a6490"/>
<path d="M110.93 901.05L113.53 905.65L108.33 905.65Z" fill="#3a6490"/>
<path d="M119.21 899.09L121.81 903.69L116.61 903.69Z" fill="#3a6490"/>
<path d="M127.48 909.69L130.08 914.29L124.88 914.29Z" fill="#3a6490"/>
<path d="M135.76 903.58L138.36 908.18L133.16 908.18Z" fill="#3a6490"/>
<path d="M144.03 899.9L146.63 904.5L141.43 904.5Z" fill="#3a6490"/>
<path d="M152.31 899.09L154.91 903.69L149.71 903.69Z" fill="#3a6490"/>
<path d="M160.58 899.9L163.18 904.5L157.98 904.5Z" fill="#3a6490"/>
<path d="M168.86 899.9L171.46 904.5L166.26 904.5Z" fill="#3a6490"/>
<path d="M177.14 897.36L179.74 901.96L174.54 901.96Z" fill="#3a6490"/>
<path d="M185.41 899.44L188.01 904.04L182.81 904.04Z" fill="#3a6490"/>
<path d="M193.69 889.53L196.29 894.13L191.09 894.13Z" fill="#3a6490"/>
<path d="M201.96 888.72L204.56 893.32L199.36 893.32Z" fill="#3a6490"/>
<path d="M210.24 887.11L212.84 891.71L207.64 891.71Z" fill="#3a6490"/>
<path d="M218.52 888.03L221.12 892.63L215.92 892.63Z" fill="#3a6490"/>
<path d="M226.79 886.65L229.39 891.25L224.19 891.25Z" fill="#3a6490"/>
<path d="M235.07 885.04L237.67 889.64L232.47 889.64Z" fill="#3a6490"/>
<path d="M243.34 892.29L245.94 896.89L240.74 896.89Z" fill="#3a6490"/>
<path d="M251.62 885.5L254.22 890.1L249.02 890.1Z" fill="#3a6490"/>
<path d="M259.89 880.31L262.49 884.91L257.29 884.91Z" fill="#3a6490"/>
<path d="M268.17 881.47L270.77 886.07L265.57 886.07Z" fill="#3a6490"/>
<path d="M276.45 888.49L279.05 893.09L273.85 893.09Z" fill="#3a6490"/>
<path d="M284.72 876.86L287.32 881.46L282.12 881.46Z" fill="#3a6490"/>
<path d="M293 882.62L295.6 887.22L290.4 887.22Z" fill="#3a6490"/>
<path d="M301.27 882.39L303.87 886.99L298.67 886.99Z" fill="#3a6490"/>
<path d="M309.55 876.4L312.15 881L306.95 881Z" fill="#3a6490"/>
<path d="M317.82 874.67L320.42 879.27L315.22 879.27Z" fill="#3a6490"/>
<rect x="53" y="751.4" width="273.1" height="288" fill="none" stroke="#505050" stroke-width="1.6"/>
<rect x="55.4" y="753" width="170.7" height="91.3" fill="#fff"/>
<rect x="61.4" y="759" width="158.7" height="79.3" fill="#fff" stroke="#333" stroke-width="1.1"/>
<path d="M78.6 764.03L80.55 767.48L76.65 767.48Z" fill="#3a6490"/>
<path d="M69.8 777.9H87.8" stroke="#4f80b5" stroke-width="1.6"/>
<text transform="translate(92.1,771.75) scale(0.93,1)" class="ss" font-size="9.7" fill="#2b2b2b" xml:space="preserve">White - 0 Joinpoints</text>
<text transform="translate(92.1,783.55) scale(0.93,1)" class="ss" font-size="9.7" fill="#2b2b2b" xml:space="preserve">1985.0-2016.0 APC  = 1.45*</text>
<circle cx="78.6" cy="789.2" r="1.42" fill="#ece234"/>
<path d="M69.8 801H87.8" stroke="#ece060" stroke-width="1.6"/>
<text transform="translate(92.1,794.85) scale(0.93,1)" class="ss" font-size="9.7" fill="#2b2b2b" xml:space="preserve">Black - 0 Joinpoints</text>
<text transform="translate(92.1,806.65) scale(0.93,1)" class="ss" font-size="9.7" fill="#2b2b2b" xml:space="preserve">1985.0-2016.0 APC  = 3.21*</text>
<path d="M77.1 811.5L80.1 814.5M80.1 811.5L77.1 814.5" stroke="#a8182e" stroke-width="1.35"/>
<path d="M69.8 824.5H87.8" stroke="#b83848" stroke-width="1.6"/>
<text transform="translate(92.1,818.65) scale(0.93,1)" class="ss" font-size="9.7" fill="#2b2b2b" xml:space="preserve">Others - 0 Joinpoints</text>
<text transform="translate(92.1,830.15) scale(0.93,1)" class="ss" font-size="9.7" fill="#2b2b2b" xml:space="preserve">1985.0-2016.0 APC  = 0.80</text>
<rect x="362.8" y="3.1" width="22.2" height="18.6" fill="#fff" stroke="#333" stroke-width="1.2"/>
<text x="375.65" y="16.7" text-anchor="middle" class="sb" font-size="16">D</text>
<text x="399" y="16.7" class="sb" font-size="16">SEER Historic Stage A</text>
<text transform="translate(379,181.55) rotate(-90)" x="0" y="0" text-anchor="middle" class="sb" font-size="16.2" textLength="295.1" lengthAdjust="spacingAndGlyphs">Mortality rates, per 1000 000 Person-Years</text>
<path d="M447.5 33.4V319.4M471.5 33.4V319.4M496.5 33.4V319.4M520.5 33.4V319.4M545.5 33.4V319.4M569.5 33.4V319.4M594.5 33.4V319.4M618.5 33.4V319.4M643.5 33.4V319.4M667.5 33.4V319.4M422.6 57.5H692M422.6 81.5H692M422.6 104.5H692M422.6 128.5H692M422.6 152.5H692M422.6 176.5H692M422.6 200.5H692M422.6 224.5H692M422.6 247.5H692M422.6 271.5H692M422.6 295.5H692" stroke="#b9b9b9" stroke-width="1" fill="none"/>
<text transform="translate(419.6,37.25) scale(1.0,1)" text-anchor="end" class="ss" font-size="11" fill="#2b2b2b">0.433</text>
<text transform="translate(419.6,61.08) scale(1.0,1)" text-anchor="end" class="ss" font-size="11" fill="#2b2b2b">0.40</text>
<text transform="translate(419.6,84.92) scale(1.0,1)" text-anchor="end" class="ss" font-size="11" fill="#2b2b2b">0.367</text>
<text transform="translate(419.6,108.75) scale(1.0,1)" text-anchor="end" class="ss" font-size="11" fill="#2b2b2b">0.334</text>
<text transform="translate(419.6,132.58) scale(1.0,1)" text-anchor="end" class="ss" font-size="11" fill="#2b2b2b">0.301</text>
<text transform="translate(419.6,156.42) scale(1.0,1)" text-anchor="end" class="ss" font-size="11" fill="#2b2b2b">0.268</text>
<text transform="translate(419.6,180.25) scale(1.0,1)" text-anchor="end" class="ss" font-size="11" fill="#2b2b2b">0.235</text>
<text transform="translate(419.6,204.08) scale(1.0,1)" text-anchor="end" class="ss" font-size="11" fill="#2b2b2b">0.202</text>
<text transform="translate(419.6,227.92) scale(1.0,1)" text-anchor="end" class="ss" font-size="11" fill="#2b2b2b">0.169</text>
<text transform="translate(419.6,251.75) scale(1.0,1)" text-anchor="end" class="ss" font-size="11" fill="#2b2b2b">0.136</text>
<text transform="translate(419.6,275.58) scale(1.0,1)" text-anchor="end" class="ss" font-size="11" fill="#2b2b2b">0.103</text>
<text transform="translate(419.6,299.42) scale(1.0,1)" text-anchor="end" class="ss" font-size="11" fill="#2b2b2b">0.07</text>
<text transform="translate(419.6,323.25) scale(1.0,1)" text-anchor="end" class="ss" font-size="11" fill="#2b2b2b">0.037</text>
<text x="422.6" y="335" text-anchor="middle" class="ss" font-size="10.8" fill="#2b2b2b" textLength="19.4" lengthAdjust="spacingAndGlyphs">1984</text>
<text x="447.09" y="335" text-anchor="middle" class="ss" font-size="10.8" fill="#2b2b2b" textLength="19.4" lengthAdjust="spacingAndGlyphs">1987</text>
<text x="471.58" y="335" text-anchor="middle" class="ss" font-size="10.8" fill="#2b2b2b" textLength="19.4" lengthAdjust="spacingAndGlyphs">1990</text>
<text x="496.07" y="335" text-anchor="middle" class="ss" font-size="10.8" fill="#2b2b2b" textLength="19.4" lengthAdjust="spacingAndGlyphs">1993</text>
<text x="520.56" y="335" text-anchor="middle" class="ss" font-size="10.8" fill="#2b2b2b" textLength="19.4" lengthAdjust="spacingAndGlyphs">1996</text>
<text x="545.05" y="335" text-anchor="middle" class="ss" font-size="10.8" fill="#2b2b2b" textLength="19.4" lengthAdjust="spacingAndGlyphs">1999</text>
<text x="569.55" y="335" text-anchor="middle" class="ss" font-size="10.8" fill="#2b2b2b" textLength="19.4" lengthAdjust="spacingAndGlyphs">2002</text>
<text x="594.04" y="335" text-anchor="middle" class="ss" font-size="10.8" fill="#2b2b2b" textLength="19.4" lengthAdjust="spacingAndGlyphs">2005</text>
<text x="618.53" y="335" text-anchor="middle" class="ss" font-size="10.8" fill="#2b2b2b" textLength="19.4" lengthAdjust="spacingAndGlyphs">2008</text>
<text x="643.02" y="335" text-anchor="middle" class="ss" font-size="10.8" fill="#2b2b2b" textLength="19.4" lengthAdjust="spacingAndGlyphs">2011</text>
<text x="667.51" y="335" text-anchor="middle" class="ss" font-size="10.8" fill="#2b2b2b" textLength="19.4" lengthAdjust="spacingAndGlyphs">2014</text>
<text x="692" y="335" text-anchor="middle" class="ss" font-size="10.8" fill="#2b2b2b" textLength="19.4" lengthAdjust="spacingAndGlyphs">2017</text>
<text x="490.4" y="353" class="sbold" font-size="11.2" fill="#222" textLength="132.9" lengthAdjust="spacingAndGlyphs">Year of death recode</text>
<polyline points="430.76,245.3 434.85,243.84 438.93,242.36 443.01,240.85 447.09,239.33 451.17,237.78 455.25,236.21 459.34,234.61 463.42,233 467.5,231.36 471.58,229.69 475.66,228.01 479.75,226.3 483.83,224.56 487.91,222.8 491.99,221.01 496.07,219.2 500.15,217.36 504.24,215.49 508.32,213.6 512.4,211.67 516.48,209.73 520.56,207.75 524.65,205.74 528.73,203.71 532.81,201.64 536.89,199.55 540.97,197.42 545.05,195.27 549.14,193.08 553.22,190.86 557.3,188.61 561.38,186.33 565.46,184.01 569.55,181.67 573.63,179.28 577.71,176.86 581.79,174.41 585.87,171.92 589.95,169.4 594.04,166.83 598.12,164.24 602.2,161.6 606.28,158.92 610.36,156.21 614.45,153.46 618.53,150.67 622.61,147.83 626.69,144.96 630.77,142.04 634.85,139.08 638.94,136.08 643.02,133.04 647.1,129.95 651.18,126.82 655.26,123.64 659.35,120.41 663.43,117.14 667.51,113.82 671.59,110.45 675.67,107.04 679.75,103.57 683.84,100.06" fill="none" stroke="#ece060" stroke-width="1.25"/>
<polyline points="430.76,229.12 434.85,228.93 438.93,228.74 443.01,228.54 447.09,228.35 451.17,228.15 455.25,227.96 459.34,227.77 463.42,227.57 467.5,227.37 471.58,227.18 475.66,226.98 479.75,226.79 483.83,226.59 487.91,226.39 491.99,226.2 496.07,226 500.15,225.8 504.24,225.6 508.32,225.4 512.4,225.2 516.48,225 520.56,224.8 524.65,224.6 528.73,224.4 532.81,224.2 536.89,224 540.97,223.8 545.05,223.6 549.14,223.4 553.22,223.2 557.3,222.99 561.38,222.79 565.46,222.59 569.55,222.38 573.63,222.18 577.71,221.97 581.79,221.77 585.87,221.56 589.95,221.36 594.04,221.15 598.12,220.95 602.2,220.74 606.28,220.53 610.36,220.33 614.45,220.12 618.53,219.91 622.61,219.7 626.69,219.5 630.77,219.29 634.85,219.08 638.94,218.87 643.02,218.66 647.1,218.45 651.18,218.24 655.26,218.03 659.35,217.82 663.43,217.6 667.51,217.39 671.59,217.18 675.67,216.97 679.75,216.75 683.84,216.54" fill="none" stroke="#6386ab" stroke-width="1.15"/>
<polyline points="430.76,264.01 434.85,263.56 438.93,263.1 443.01,262.65 447.09,262.19 451.17,261.73 455.25,261.27 459.34,260.8 463.42,260.33 467.5,259.86 471.58,259.39 475.66,258.91 479.75,258.43 483.83,257.95 487.91,257.47 491.99,256.98 496.07,256.49 500.15,256 504.24,255.51 508.32,255.01 512.4,254.51 516.48,254.01 520.56,253.5 524.65,253 528.73,252.49 532.81,251.97 536.89,251.46 540.97,250.94 545.05,250.41 549.14,249.89 553.22,249.36 557.3,248.83 561.38,248.3 565.46,247.76 569.55,247.22 573.63,246.68 577.71,246.13 581.79,245.58 585.87,245.03 589.95,244.48 594.04,243.92 598.12,243.36 602.2,242.8 606.28,242.23 610.36,241.66 614.45,241.09 618.53,240.51 622.61,239.93 626.69,239.35 630.77,238.76 634.85,238.18 638.94,237.58 643.02,236.99 647.1,236.39 651.18,235.79 655.26,235.18 659.35,234.57 663.43,233.96 667.51,233.35 671.59,232.73 675.67,232.11 679.75,231.48 683.84,230.85" fill="none" stroke="#3030d8" stroke-width="1.4"/>
<circle cx="430.76" cy="267.4" r="1.9" fill="#ece234"/>
<circle cx="438.93" cy="245.01" r="1.9" fill="#ece234"/>
<circle cx="447.09" cy="231.29" r="1.9" fill="#ece234"/>
<circle cx="455.25" cy="209.19" r="1.9" fill="#ece234"/>
<circle cx="463.42" cy="252.23" r="1.9" fill="#ece234"/>
<circle cx="471.58" cy="267.4" r="1.9" fill="#ece234"/>
<circle cx="479.75" cy="245.01" r="1.9" fill="#ece234"/>
<circle cx="487.91" cy="209.19" r="1.9" fill="#ece234"/>
<circle cx="496.07" cy="238.51" r="1.9" fill="#ece234"/>
<circle cx="504.24" cy="201.89" r="1.9" fill="#ece234"/>
<circle cx="512.4" cy="216.48" r="1.9" fill="#ece234"/>
<circle cx="520.56" cy="195.18" r="1.9" fill="#ece234"/>
<circle cx="528.73" cy="216.48" r="1.9" fill="#ece234"/>
<circle cx="536.89" cy="216.48" r="1.9" fill="#ece234"/>
<circle cx="545.05" cy="216.48" r="1.9" fill="#ece234"/>
<circle cx="553.22" cy="187.52" r="1.9" fill="#ece234"/>
<circle cx="561.38" cy="187.52" r="1.9" fill="#ece234"/>
<circle cx="569.55" cy="180.59" r="1.9" fill="#ece234"/>
<circle cx="577.71" cy="178.57" r="1.9" fill="#ece234"/>
<circle cx="585.87" cy="158.71" r="1.9" fill="#ece234"/>
<circle cx="594.04" cy="158.71" r="1.9" fill="#ece234"/>
<circle cx="602.2" cy="158.71" r="1.9" fill="#ece234"/>
<circle cx="610.36" cy="158.71" r="1.9" fill="#ece234"/>
<circle cx="618.53" cy="122.38" r="1.9" fill="#ece234"/>
<circle cx="626.69" cy="158.71" r="1.9" fill="#ece234"/>
<circle cx="634.85" cy="107.93" r="1.9" fill="#ece234"/>
<circle cx="643.02" cy="151.7" r="1.9" fill="#ece234"/>
<circle cx="651.18" cy="173.01" r="1.9" fill="#ece234"/>
<circle cx="659.35" cy="115.52" r="1.9" fill="#ece234"/>
<circle cx="667.51" cy="115.52" r="1.9" fill="#ece234"/>
<circle cx="675.67" cy="107.93" r="1.9" fill="#ece234"/>
<circle cx="683.84" cy="151.7" r="1.9" fill="#ece234"/>
<path d="M430.76 235.75L433.36 240.35L428.16 240.35Z" fill="#3a6490"/>
<path d="M438.93 199.64L441.53 204.24L436.33 204.24Z" fill="#3a6490"/>
<path d="M447.09 228.53L449.69 233.13L444.49 233.13Z" fill="#3a6490"/>
<path d="M455.25 235.75L457.85 240.35L452.65 240.35Z" fill="#3a6490"/>
<path d="M463.42 242.97L466.02 247.57L460.82 247.57Z" fill="#3a6490"/>
<path d="M471.58 228.53L474.18 233.13L468.98 233.13Z" fill="#3a6490"/>
<path d="M479.75 213.72L482.35 218.32L477.15 218.32Z" fill="#3a6490"/>
<path d="M487.91 213.72L490.51 218.32L485.31 218.32Z" fill="#3a6490"/>
<path d="M496.07 242.97L498.67 247.57L493.47 247.57Z" fill="#3a6490"/>
<path d="M504.24 235.75L506.84 240.35L501.64 240.35Z" fill="#3a6490"/>
<path d="M512.4 192.42L515 197.02L509.8 197.02Z" fill="#3a6490"/>
<path d="M520.56 228.53L523.16 233.13L517.96 233.13Z" fill="#3a6490"/>
<path d="M528.73 228.53L531.33 233.13L526.13 233.13Z" fill="#3a6490"/>
<path d="M536.89 235.75L539.49 240.35L534.29 240.35Z" fill="#3a6490"/>
<path d="M545.05 221.31L547.65 225.91L542.45 225.91Z" fill="#3a6490"/>
<path d="M553.22 221.31L555.82 225.91L550.62 225.91Z" fill="#3a6490"/>
<path d="M561.38 213.65L563.98 218.25L558.78 218.25Z" fill="#3a6490"/>
<path d="M569.55 199.35L572.15 203.95L566.95 203.95Z" fill="#3a6490"/>
<path d="M577.71 213.65L580.31 218.25L575.11 218.25Z" fill="#3a6490"/>
<path d="M585.87 235.75L588.47 240.35L583.27 240.35Z" fill="#3a6490"/>
<path d="M594.04 207.15L596.64 211.75L591.44 211.75Z" fill="#3a6490"/>
<path d="M602.2 207.15L604.8 211.75L599.6 211.75Z" fill="#3a6490"/>
<path d="M610.36 242.54L612.96 247.14L607.76 247.14Z" fill="#3a6490"/>
<path d="M618.53 221.31L621.13 225.91L615.93 225.91Z" fill="#3a6490"/>
<path d="M626.69 207.15L629.29 211.75L624.09 211.75Z" fill="#3a6490"/>
<path d="M634.85 213.65L637.45 218.25L632.25 218.25Z" fill="#3a6490"/>
<path d="M643.02 207.15L645.62 211.75L640.42 211.75Z" fill="#3a6490"/>
<path d="M651.18 192.42L653.78 197.02L648.58 197.02Z" fill="#3a6490"/>
<path d="M659.35 228.53L661.95 233.13L656.75 233.13Z" fill="#3a6490"/>
<path d="M667.51 228.53L670.11 233.13L664.91 233.13Z" fill="#3a6490"/>
<path d="M675.67 185.2L678.27 189.8L673.07 189.8Z" fill="#3a6490"/>
<path d="M683.84 221.31L686.44 225.91L681.24 225.91Z" fill="#3a6490"/>
<circle cx="430.76" cy="238.51" r="2.5" fill="#0404d2"/>
<circle cx="438.93" cy="289.07" r="2.5" fill="#0404d2"/>
<circle cx="447.09" cy="260.18" r="2.5" fill="#0404d2"/>
<circle cx="455.25" cy="274.19" r="2.5" fill="#0404d2"/>
<circle cx="463.42" cy="252.23" r="2.5" fill="#0404d2"/>
<circle cx="471.58" cy="245.3" r="2.5" fill="#0404d2"/>
<circle cx="479.75" cy="267.04" r="2.5" fill="#0404d2"/>
<circle cx="487.91" cy="252.23" r="2.5" fill="#0404d2"/>
<circle cx="496.07" cy="267.04" r="2.5" fill="#0404d2"/>
<circle cx="504.24" cy="274.19" r="2.5" fill="#0404d2"/>
<circle cx="512.4" cy="252.23" r="2.5" fill="#0404d2"/>
<circle cx="520.56" cy="260.18" r="2.5" fill="#0404d2"/>
<circle cx="528.73" cy="260.18" r="2.5" fill="#0404d2"/>
<circle cx="536.89" cy="252.23" r="2.5" fill="#0404d2"/>
<circle cx="545.05" cy="238.51" r="2.5" fill="#0404d2"/>
<circle cx="553.22" cy="260.18" r="2.5" fill="#0404d2"/>
<circle cx="561.38" cy="216.41" r="2.5" fill="#0404d2"/>
<circle cx="569.55" cy="245.3" r="2.5" fill="#0404d2"/>
<circle cx="577.71" cy="252.74" r="2.5" fill="#0404d2"/>
<circle cx="585.87" cy="231" r="2.5" fill="#0404d2"/>
<circle cx="594.04" cy="252.74" r="2.5" fill="#0404d2"/>
<circle cx="602.2" cy="252.74" r="2.5" fill="#0404d2"/>
<circle cx="610.36" cy="245.3" r="2.5" fill="#0404d2"/>
<circle cx="618.53" cy="245.3" r="2.5" fill="#0404d2"/>
<circle cx="626.69" cy="231" r="2.5" fill="#0404d2"/>
<circle cx="634.85" cy="231" r="2.5" fill="#0404d2"/>
<circle cx="643.02" cy="266.82" r="2.5" fill="#0404d2"/>
<circle cx="651.18" cy="223.42" r="2.5" fill="#0404d2"/>
<circle cx="659.35" cy="245.3" r="2.5" fill="#0404d2"/>
<circle cx="667.51" cy="223.42" r="2.5" fill="#0404d2"/>
<circle cx="675.67" cy="223.42" r="2.5" fill="#0404d2"/>
<circle cx="683.84" cy="252.74" r="2.5" fill="#0404d2"/>
<rect x="422.6" y="33.4" width="269.4" height="286" fill="none" stroke="#505050" stroke-width="1.6"/>
<rect x="424.8" y="34.5" width="165.6" height="89.7" fill="#fff"/>
<rect x="431.8" y="41.5" width="151.6" height="75.7" fill="#fff" stroke="#333" stroke-width="1.1"/>
<circle cx="448.5" cy="48.4" r="1.88" fill="#0404d2"/>
<path d="M440 58.8H457" stroke="#3030d8" stroke-width="1.6"/>
<text transform="translate(461.8,53.87) scale(0.945,1)" class="ss" font-size="9.2" fill="#2b2b2b" xml:space="preserve">Localized - 0 Joinpoints</text>
<text transform="translate(461.8,64.27) scale(0.945,1)" class="ss" font-size="9.2" fill="#2b2b2b" xml:space="preserve">1985.0-2016.0 APC  = 1.10*</text>
<path d="M448.5 68.13L450.45 71.58L446.55 71.58Z" fill="#3a6490"/>
<path d="M440 81.1H457" stroke="#4f80b5" stroke-width="1.6"/>
<text transform="translate(461.8,75.67) scale(0.945,1)" class="ss" font-size="9.2" fill="#2b2b2b" xml:space="preserve">Regional - 0 Joinpoints</text>
<text transform="translate(461.8,86.57) scale(0.945,1)" class="ss" font-size="9.2" fill="#2b2b2b" xml:space="preserve">1985.0-2016.0 APC  = 0.33</text>
<circle cx="448.5" cy="91.9" r="1.42" fill="#ece234"/>
<path d="M440 102.8H457" stroke="#ece060" stroke-width="1.6"/>
<text transform="translate(461.8,97.37) scale(0.945,1)" class="ss" font-size="9.2" fill="#2b2b2b" xml:space="preserve">Distant - 0 Joinpoints</text>
<text transform="translate(461.8,108.27) scale(0.945,1)" class="ss" font-size="9.2" fill="#2b2b2b" xml:space="preserve">1985.0-2016.0 APC  = 2.92*</text>
<rect x="368.1" y="360.7" width="22.6" height="18.8" fill="#fff" stroke="#333" stroke-width="1.2"/>
<text x="379.3" y="375.6" text-anchor="middle" class="sb" font-size="16">E</text>
<text x="402.7" y="375.6" class="sb" font-size="16">Tumor Location</text>
<text transform="translate(383.5,535.55) rotate(-90)" x="0" y="0" text-anchor="middle" class="sb" font-size="16.2" textLength="296.1" lengthAdjust="spacingAndGlyphs">Mortality rates, per 1000 000 Person-Years</text>
<path d="M443.5 391V675.5M467.5 391V675.5M492.5 391V675.5M517.5 391V675.5M542.5 391V675.5M566.5 391V675.5M591.5 391V675.5M616.5 391V675.5M641.5 391V675.5M665.5 391V675.5M418.3 416.5H690.5M418.3 442.5H690.5M418.3 468.5H690.5M418.3 494.5H690.5M418.3 520.5H690.5M418.3 546.5H690.5M418.3 572.5H690.5M418.3 597.5H690.5M418.3 623.5H690.5M418.3 649.5H690.5" stroke="#b9b9b9" stroke-width="1" fill="none"/>
<text transform="translate(416,394.85) scale(1.0,1)" text-anchor="end" class="ss" font-size="11" fill="#2b2b2b">5.4</text>
<text transform="translate(416,420.71) scale(1.0,1)" text-anchor="end" class="ss" font-size="11" fill="#2b2b2b">5</text>
<text transform="translate(416,446.58) scale(1.0,1)" text-anchor="end" class="ss" font-size="11" fill="#2b2b2b">4.6</text>
<text transform="translate(416,472.44) scale(1.0,1)" text-anchor="end" class="ss" font-size="11" fill="#2b2b2b">4.2</text>
<text transform="translate(416,498.3) scale(1.0,1)" text-anchor="end" class="ss" font-size="11" fill="#2b2b2b">3.8</text>
<text transform="translate(416,524.17) scale(1.0,1)" text-anchor="end" class="ss" font-size="11" fill="#2b2b2b">3.4</text>
<text transform="translate(416,550.03) scale(1.0,1)" text-anchor="end" class="ss" font-size="11" fill="#2b2b2b">3</text>
<text transform="translate(416,575.9) scale(1.0,1)" text-anchor="end" class="ss" font-size="11" fill="#2b2b2b">2.6</text>
<text transform="translate(416,601.76) scale(1.0,1)" text-anchor="end" class="ss" font-size="11" fill="#2b2b2b">2.2</text>
<text transform="translate(416,627.62) scale(1.0,1)" text-anchor="end" class="ss" font-size="11" fill="#2b2b2b">1.8</text>
<text transform="translate(416,653.49) scale(1.0,1)" text-anchor="end" class="ss" font-size="11" fill="#2b2b2b">1.4</text>
<text transform="translate(416,679.35) scale(1.0,1)" text-anchor="end" class="ss" font-size="11" fill="#2b2b2b">1</text>
<text x="418.3" y="691.5" text-anchor="middle" class="ss" font-size="10.8" fill="#2b2b2b" textLength="19.4" lengthAdjust="spacingAndGlyphs">1984</text>
<text x="443.05" y="691.5" text-anchor="middle" class="ss" font-size="10.8" fill="#2b2b2b" textLength="19.4" lengthAdjust="spacingAndGlyphs">1987</text>
<text x="467.79" y="691.5" text-anchor="middle" class="ss" font-size="10.8" fill="#2b2b2b" textLength="19.4" lengthAdjust="spacingAndGlyphs">1990</text>
<text x="492.54" y="691.5" text-anchor="middle" class="ss" font-size="10.8" fill="#2b2b2b" textLength="19.4" lengthAdjust="spacingAndGlyphs">1993</text>
<text x="517.28" y="691.5" text-anchor="middle" class="ss" font-size="10.8" fill="#2b2b2b" textLength="19.4" lengthAdjust="spacingAndGlyphs">1996</text>
<text x="542.03" y="691.5" text-anchor="middle" class="ss" font-size="10.8" fill="#2b2b2b" textLength="19.4" lengthAdjust="spacingAndGlyphs">1999</text>
<text x="566.77" y="691.5" text-anchor="middle" class="ss" font-size="10.8" fill="#2b2b2b" textLength="19.4" lengthAdjust="spacingAndGlyphs">2002</text>
<text x="591.52" y="691.5" text-anchor="middle" class="ss" font-size="10.8" fill="#2b2b2b" textLength="19.4" lengthAdjust="spacingAndGlyphs">2005</text>
<text x="616.26" y="691.5" text-anchor="middle" class="ss" font-size="10.8" fill="#2b2b2b" textLength="19.4" lengthAdjust="spacingAndGlyphs">2008</text>
<text x="641.01" y="691.5" text-anchor="middle" class="ss" font-size="10.8" fill="#2b2b2b" textLength="19.4" lengthAdjust="spacingAndGlyphs">2011</text>
<text x="665.75" y="691.5" text-anchor="middle" class="ss" font-size="10.8" fill="#2b2b2b" textLength="19.4" lengthAdjust="spacingAndGlyphs">2014</text>
<text x="690.5" y="691.5" text-anchor="middle" class="ss" font-size="10.8" fill="#2b2b2b" textLength="19.4" lengthAdjust="spacingAndGlyphs">2017</text>
<text x="487" y="710.3" class="sbold" font-size="11.2" fill="#222" textLength="132.4" lengthAdjust="spacingAndGlyphs">Year of death recode</text>
<polyline points="426.55,579.68 430.67,578.05 434.8,576.41 438.92,574.75 443.05,573.07 447.17,571.38 451.29,569.67 455.42,567.95 459.54,566.2 463.67,564.44 467.79,562.66 471.92,560.86 476.04,559.05 480.16,557.21 484.29,555.36 488.41,553.49 492.54,551.6 496.66,549.69 500.78,547.76 504.91,545.81 509.03,543.84 513.16,541.85 517.28,539.84 521.41,537.81 525.53,535.76 529.65,533.69 533.78,531.6 537.9,529.49 542.03,527.36 546.15,525.2 550.28,523.02 554.4,520.82 558.52,518.6 562.65,516.36 566.77,514.09 570.9,511.8 575.02,509.49 579.15,507.15 583.27,504.79 587.39,502.41 591.52,500 595.64,497.57 599.77,495.11 603.89,492.63 608.02,490.12 612.14,487.59 616.26,485.03 620.39,482.45 624.51,479.84 628.64,477.2 632.76,474.54 636.88,471.84 641.01,469.13 645.13,466.38 649.26,463.61 653.38,460.81 657.51,457.98 661.63,455.12 665.75,452.23 669.88,449.32 674,446.37 678.13,443.4 682.25,440.39" fill="none" stroke="#6386ab" stroke-width="1.15"/>
<polyline points="426.55,575.28 430.67,574.85 434.8,574.41 438.92,573.98 443.05,573.54 447.17,573.1 451.29,572.66 455.42,572.22 459.54,571.78 463.67,571.34 467.79,570.9 471.92,570.45 476.04,570.01 480.16,569.56 484.29,569.11 488.41,568.66 492.54,568.21 496.66,567.76 500.78,567.31 504.91,566.85 509.03,566.4 513.16,565.94 517.28,565.48 521.41,565.02 525.53,564.56 529.65,564.1 533.78,563.64 537.9,563.18 542.03,562.71 546.15,562.25 550.28,561.78 554.4,561.31 558.52,560.84 562.65,560.37 566.77,559.9 570.9,559.42 575.02,558.95 579.15,558.47 583.27,558 587.39,557.52 591.52,557.04 595.64,556.56 599.77,556.08 603.89,555.59 608.02,555.11 612.14,554.62 616.26,554.13 620.39,553.64 624.51,553.15 628.64,552.66 632.76,552.17 636.88,551.68 641.01,551.18 645.13,550.69 649.26,550.19 653.38,549.69 657.51,549.19 661.63,548.69 665.75,548.18 669.88,547.68 674,547.17 678.13,546.67 682.25,546.16" fill="none" stroke="#3030d8" stroke-width="1.4"/>
<path d="M426.55 594.44L429.15 599.04L423.95 599.04Z" fill="#3a6490"/>
<path d="M434.8 583.83L437.4 588.43L432.2 588.43Z" fill="#3a6490"/>
<path d="M443.05 606.34L445.65 610.94L440.45 610.94Z" fill="#3a6490"/>
<path d="M451.29 576.33L453.89 580.93L448.69 580.93Z" fill="#3a6490"/>
<path d="M459.54 576.33L462.14 580.93L456.94 580.93Z" fill="#3a6490"/>
<path d="M467.79 584.8L470.39 589.4L465.19 589.4Z" fill="#3a6490"/>
<path d="M476.04 544.39L478.64 548.99L473.44 548.99Z" fill="#3a6490"/>
<path d="M484.29 537.02L486.89 541.62L481.69 541.62Z" fill="#3a6490"/>
<path d="M492.54 519.76L495.14 524.36L489.94 524.36Z" fill="#3a6490"/>
<path d="M500.78 508.83L503.38 513.43L498.18 513.43Z" fill="#3a6490"/>
<path d="M509.03 543.42L511.63 548.02L506.43 548.02Z" fill="#3a6490"/>
<path d="M517.28 516.14L519.88 520.74L514.68 520.74Z" fill="#3a6490"/>
<path d="M525.53 544.39L528.13 548.99L522.93 548.99Z" fill="#3a6490"/>
<path d="M533.78 573.94L536.38 578.54L531.18 578.54Z" fill="#3a6490"/>
<path d="M542.03 560.94L544.63 565.54L539.43 565.54Z" fill="#3a6490"/>
<path d="M550.28 545.62L552.88 550.22L547.68 550.22Z" fill="#3a6490"/>
<path d="M558.52 489.56L561.12 494.16L555.92 494.16Z" fill="#3a6490"/>
<path d="M566.77 483.74L569.37 488.34L564.17 488.34Z" fill="#3a6490"/>
<path d="M575.02 471.13L577.62 475.73L572.42 475.73Z" fill="#3a6490"/>
<path d="M583.27 487.17L585.87 491.77L580.67 491.77Z" fill="#3a6490"/>
<path d="M591.52 489.56L594.12 494.16L588.92 494.16Z" fill="#3a6490"/>
<path d="M599.77 498.68L602.37 503.28L597.17 503.28Z" fill="#3a6490"/>
<path d="M608.02 518.53L610.62 523.13L605.42 523.13Z" fill="#3a6490"/>
<path d="M616.26 464.6L618.86 469.2L613.66 469.2Z" fill="#3a6490"/>
<path d="M624.51 446.76L627.11 451.36L621.91 451.36Z" fill="#3a6490"/>
<path d="M632.76 489.56L635.36 494.16L630.16 494.16Z" fill="#3a6490"/>
<path d="M641.01 458.85L643.61 463.45L638.41 463.45Z" fill="#3a6490"/>
<path d="M649.26 480.12L651.86 484.72L646.66 484.72Z" fill="#3a6490"/>
<path d="M657.51 442.81L660.11 447.41L654.91 447.41Z" fill="#3a6490"/>
<path d="M665.75 421.35L668.35 425.95L663.15 425.95Z" fill="#3a6490"/>
<path d="M674 489.56L676.6 494.16L671.4 494.16Z" fill="#3a6490"/>
<path d="M682.25 467.25L684.85 471.85L679.65 471.85Z" fill="#3a6490"/>
<circle cx="426.55" cy="572.11" r="2.5" fill="#0404d2"/>
<circle cx="434.8" cy="579.68" r="2.5" fill="#0404d2"/>
<circle cx="443.05" cy="566.1" r="2.5" fill="#0404d2"/>
<circle cx="451.29" cy="584.2" r="2.5" fill="#0404d2"/>
<circle cx="459.54" cy="586.21" r="2.5" fill="#0404d2"/>
<circle cx="467.79" cy="568.1" r="2.5" fill="#0404d2"/>
<circle cx="476.04" cy="560.08" r="2.5" fill="#0404d2"/>
<circle cx="484.29" cy="580.32" r="2.5" fill="#0404d2"/>
<circle cx="492.54" cy="613.49" r="2.5" fill="#0404d2"/>
<circle cx="500.78" cy="597.2" r="2.5" fill="#0404d2"/>
<circle cx="509.03" cy="538.81" r="2.5" fill="#0404d2"/>
<circle cx="517.28" cy="559.18" r="2.5" fill="#0404d2"/>
<circle cx="525.53" cy="560.08" r="2.5" fill="#0404d2"/>
<circle cx="533.78" cy="534.48" r="2.5" fill="#0404d2"/>
<circle cx="542.03" cy="544.18" r="2.5" fill="#0404d2"/>
<circle cx="550.28" cy="546.57" r="2.5" fill="#0404d2"/>
<circle cx="558.52" cy="585.49" r="2.5" fill="#0404d2"/>
<circle cx="566.77" cy="568.88" r="2.5" fill="#0404d2"/>
<circle cx="575.02" cy="552.58" r="2.5" fill="#0404d2"/>
<circle cx="583.27" cy="564.16" r="2.5" fill="#0404d2"/>
<circle cx="591.52" cy="539.72" r="2.5" fill="#0404d2"/>
<circle cx="599.77" cy="542.69" r="2.5" fill="#0404d2"/>
<circle cx="608.02" cy="545.99" r="2.5" fill="#0404d2"/>
<circle cx="616.26" cy="541.07" r="2.5" fill="#0404d2"/>
<circle cx="624.51" cy="570.49" r="2.5" fill="#0404d2"/>
<circle cx="632.76" cy="527.3" r="2.5" fill="#0404d2"/>
<circle cx="641.01" cy="591.44" r="2.5" fill="#0404d2"/>
<circle cx="649.26" cy="549.22" r="2.5" fill="#0404d2"/>
<circle cx="657.51" cy="585.11" r="2.5" fill="#0404d2"/>
<circle cx="665.75" cy="595.39" r="2.5" fill="#0404d2"/>
<circle cx="674" cy="528.08" r="2.5" fill="#0404d2"/>
<circle cx="682.25" cy="520.71" r="2.5" fill="#0404d2"/>
<rect x="418.3" y="391" width="272.2" height="284.5" fill="none" stroke="#505050" stroke-width="1.6"/>
<rect x="367.9" y="721.1" width="22.2" height="18.8" fill="#fff" stroke="#333" stroke-width="1.2"/>
<text x="379.05" y="737" text-anchor="middle" class="sb" font-size="16">F</text>
<text x="401.2" y="737" class="sb" font-size="16">Histologic subtype</text>
<text transform="translate(383,895.5) rotate(-90)" x="0" y="0" text-anchor="middle" class="sb" font-size="16.2" textLength="296.2" lengthAdjust="spacingAndGlyphs">Mortality rates, per 1000 000 Person-Years</text>
<path d="M441.5 752.7V1029.7M466.5 752.7V1029.7M491.5 752.7V1029.7M516.5 752.7V1029.7M540.5 752.7V1029.7M565.5 752.7V1029.7M590.5 752.7V1029.7M615.5 752.7V1029.7M639.5 752.7V1029.7M664.5 752.7V1029.7M417 780.5H689.3M417 808.5H689.3M417 835.5H689.3M417 863.5H689.3M417 891.5H689.3M417 918.5H689.3M417 946.5H689.3M417 974.5H689.3M417 1002.5H689.3" stroke="#b9b9b9" stroke-width="1" fill="none"/>
<text transform="translate(414.5,756.55) scale(1.0,1)" text-anchor="end" class="ss" font-size="11" fill="#2b2b2b">4</text>
<text transform="translate(414.5,784.25) scale(1.0,1)" text-anchor="end" class="ss" font-size="11" fill="#2b2b2b">3.6</text>
<text transform="translate(414.5,811.95) scale(1.0,1)" text-anchor="end" class="ss" font-size="11" fill="#2b2b2b">3.2</text>
<text transform="translate(414.5,839.65) scale(1.0,1)" text-anchor="end" class="ss" font-size="11" fill="#2b2b2b">2.8</text>
<text transform="translate(414.5,867.35) scale(1.0,1)" text-anchor="end" class="ss" font-size="11" fill="#2b2b2b">2.4</text>
<text transform="translate(414.5,895.05) scale(1.0,1)" text-anchor="end" class="ss" font-size="11" fill="#2b2b2b">2</text>
<text transform="translate(414.5,922.75) scale(1.0,1)" text-anchor="end" class="ss" font-size="11" fill="#2b2b2b">1.6</text>
<text transform="translate(414.5,950.45) scale(1.0,1)" text-anchor="end" class="ss" font-size="11" fill="#2b2b2b">1.2</text>
<text transform="translate(414.5,978.15) scale(1.0,1)" text-anchor="end" class="ss" font-size="11" fill="#2b2b2b">0.8</text>
<text transform="translate(414.5,1005.85) scale(1.0,1)" text-anchor="end" class="ss" font-size="11" fill="#2b2b2b">0.4</text>
<text transform="translate(414.5,1033.55) scale(1.0,1)" text-anchor="end" class="ss" font-size="11" fill="#2b2b2b">0</text>
<text x="417" y="1045" text-anchor="middle" class="ss" font-size="10.8" fill="#2b2b2b" textLength="19.4" lengthAdjust="spacingAndGlyphs">1984</text>
<text x="441.75" y="1045" text-anchor="middle" class="ss" font-size="10.8" fill="#2b2b2b" textLength="19.4" lengthAdjust="spacingAndGlyphs">1987</text>
<text x="466.51" y="1045" text-anchor="middle" class="ss" font-size="10.8" fill="#2b2b2b" textLength="19.4" lengthAdjust="spacingAndGlyphs">1990</text>
<text x="491.26" y="1045" text-anchor="middle" class="ss" font-size="10.8" fill="#2b2b2b" textLength="19.4" lengthAdjust="spacingAndGlyphs">1993</text>
<text x="516.02" y="1045" text-anchor="middle" class="ss" font-size="10.8" fill="#2b2b2b" textLength="19.4" lengthAdjust="spacingAndGlyphs">1996</text>
<text x="540.77" y="1045" text-anchor="middle" class="ss" font-size="10.8" fill="#2b2b2b" textLength="19.4" lengthAdjust="spacingAndGlyphs">1999</text>
<text x="565.53" y="1045" text-anchor="middle" class="ss" font-size="10.8" fill="#2b2b2b" textLength="19.4" lengthAdjust="spacingAndGlyphs">2002</text>
<text x="590.28" y="1045" text-anchor="middle" class="ss" font-size="10.8" fill="#2b2b2b" textLength="19.4" lengthAdjust="spacingAndGlyphs">2005</text>
<text x="615.04" y="1045" text-anchor="middle" class="ss" font-size="10.8" fill="#2b2b2b" textLength="19.4" lengthAdjust="spacingAndGlyphs">2008</text>
<text x="639.79" y="1045" text-anchor="middle" class="ss" font-size="10.8" fill="#2b2b2b" textLength="19.4" lengthAdjust="spacingAndGlyphs">2011</text>
<text x="664.55" y="1045" text-anchor="middle" class="ss" font-size="10.8" fill="#2b2b2b" textLength="19.4" lengthAdjust="spacingAndGlyphs">2014</text>
<text x="689.3" y="1045" text-anchor="middle" class="ss" font-size="10.8" fill="#2b2b2b" textLength="19.4" lengthAdjust="spacingAndGlyphs">2017</text>
<text x="488.4" y="1064.2" class="sbold" font-size="11.2" fill="#222" textLength="128.4" lengthAdjust="spacingAndGlyphs">Year of death recode</text>
<polyline points="425.25,956.57 429.38,955.23 433.5,953.86 437.63,952.46 441.75,951.05 445.88,949.6 450.01,948.13 454.13,946.63 458.26,945.1 462.38,943.55 466.51,941.96 470.63,940.35 474.76,938.71 478.89,937.03 483.01,935.33 487.14,933.6 491.26,931.83 495.39,930.03 499.52,928.2 503.64,926.33 507.77,924.43 511.89,922.5 516.02,920.53 520.14,918.52 524.27,916.48 528.4,914.4 532.52,912.28 536.65,910.12 540.77,907.92 544.9,905.68 549.02,903.4 553.15,901.08 557.28,898.72 561.4,896.31 565.53,893.86 569.65,891.36 573.78,888.82 577.9,886.23 582.03,883.59 586.16,880.91 590.28,878.17 594.41,875.39 598.53,872.55 602.66,869.66 606.78,866.72 610.91,863.72 615.04,860.67 619.16,857.57 623.29,854.4 627.41,851.18 631.54,847.9 635.67,844.56 639.79,841.15 643.92,837.69 648.04,834.16 652.17,830.56 656.29,826.9 660.42,823.18 664.55,819.38 668.67,815.51 672.8,811.58 676.92,807.57 681.05,803.48" fill="none" stroke="#6386ab" stroke-width="1.15"/>
<polyline points="425.25,1000.34 429.38,1000 433.5,999.65 437.63,999.3 441.75,998.95 445.88,998.59 450.01,998.23 454.13,997.86 458.26,997.49 462.38,997.12 466.51,996.74 470.63,996.35 474.76,995.97 478.89,995.57 483.01,995.18 487.14,994.78 491.26,994.37 495.39,993.96 499.52,993.54 503.64,993.12 507.77,992.7 511.89,992.27 516.02,991.83 520.14,991.39 524.27,990.94 528.4,990.49 532.52,990.04 536.65,989.58 540.77,989.11 544.9,988.64 549.02,988.16 553.15,987.68 557.28,987.19 561.4,986.69 565.53,986.19 569.65,985.69 573.78,985.18 577.9,984.66 582.03,984.13 586.16,983.6 590.28,983.07 594.41,982.52 598.53,981.98 602.66,981.42 606.78,980.86 610.91,980.29 615.04,979.72 619.16,979.13 623.29,978.55 627.41,977.95 631.54,977.35 635.67,976.74 639.79,976.12 643.92,975.5 648.04,974.87 652.17,974.23 656.29,973.59 660.42,972.94 664.55,972.27 668.67,971.61 672.8,970.93 676.92,970.25 681.05,969.56" fill="none" stroke="#3030d8" stroke-width="1.4"/>
<path d="M425.25 998.69L427.85 1003.29L422.65 1003.29Z" fill="#3a6490"/>
<path d="M433.5 989.48L436.1 994.08L430.9 994.08Z" fill="#3a6490"/>
<path d="M441.75 979.85L444.35 984.45L439.15 984.45Z" fill="#3a6490"/>
<path d="M450.01 963.78L452.61 968.38L447.41 968.38Z" fill="#3a6490"/>
<path d="M458.26 950.97L460.86 955.57L455.66 955.57Z" fill="#3a6490"/>
<path d="M466.51 962.33L469.11 966.93L463.91 966.93Z" fill="#3a6490"/>
<path d="M474.76 930.61L477.36 935.21L472.16 935.21Z" fill="#3a6490"/>
<path d="M483.01 931.72L485.61 936.32L480.41 936.32Z" fill="#3a6490"/>
<path d="M491.26 904.99L493.86 909.59L488.66 909.59Z" fill="#3a6490"/>
<path d="M499.52 924.8L502.12 929.4L496.92 929.4Z" fill="#3a6490"/>
<path d="M507.77 902.84L510.37 907.44L505.17 907.44Z" fill="#3a6490"/>
<path d="M516.02 891.56L518.62 896.16L513.42 896.16Z" fill="#3a6490"/>
<path d="M524.27 901.39L526.87 905.99L521.67 905.99Z" fill="#3a6490"/>
<path d="M532.52 922.1L535.12 926.7L529.92 926.7Z" fill="#3a6490"/>
<path d="M540.77 926.32L543.37 930.92L538.17 930.92Z" fill="#3a6490"/>
<path d="M549.02 897.44L551.62 902.04L546.42 902.04Z" fill="#3a6490"/>
<path d="M557.28 911.15L559.88 915.75L554.68 915.75Z" fill="#3a6490"/>
<path d="M565.53 865.8L568.13 870.4L562.93 870.4Z" fill="#3a6490"/>
<path d="M573.78 840.52L576.38 845.12L571.18 845.12Z" fill="#3a6490"/>
<path d="M582.03 866.21L584.63 870.81L579.43 870.81Z" fill="#3a6490"/>
<path d="M590.28 856.38L592.88 860.98L587.68 860.98Z" fill="#3a6490"/>
<path d="M598.53 869.67L601.13 874.27L595.93 874.27Z" fill="#3a6490"/>
<path d="M606.78 886.15L609.38 890.75L604.18 890.75Z" fill="#3a6490"/>
<path d="M615.04 815.8L617.64 820.4L612.44 820.4Z" fill="#3a6490"/>
<path d="M623.29 865.31L625.89 869.91L620.69 869.91Z" fill="#3a6490"/>
<path d="M631.54 830.34L634.14 834.94L628.94 834.94Z" fill="#3a6490"/>
<path d="M639.79 836.85L642.39 841.45L637.19 841.45Z" fill="#3a6490"/>
<path d="M648.04 861.78L650.64 866.38L645.44 866.38Z" fill="#3a6490"/>
<path d="M656.29 825.21L658.89 829.81L653.69 829.81Z" fill="#3a6490"/>
<path d="M664.55 816L667.15 820.6L661.95 820.6Z" fill="#3a6490"/>
<path d="M672.8 849.94L675.4 854.54L670.2 854.54Z" fill="#3a6490"/>
<path d="M681.05 817.6L683.65 822.2L678.45 822.2Z" fill="#3a6490"/>
<circle cx="425.25" cy="1022.78" r="2.5" fill="#0404d2"/>
<circle cx="433.5" cy="1018.97" r="2.5" fill="#0404d2"/>
<circle cx="441.75" cy="1011.49" r="2.5" fill="#0404d2"/>
<circle cx="450.01" cy="989.6" r="2.5" fill="#0404d2"/>
<circle cx="458.26" cy="994.31" r="2.5" fill="#0404d2"/>
<circle cx="466.51" cy="1001.86" r="2.5" fill="#0404d2"/>
<circle cx="474.76" cy="1003.32" r="2.5" fill="#0404d2"/>
<circle cx="483.01" cy="1002.42" r="2.5" fill="#0404d2"/>
<circle cx="491.26" cy="996.04" r="2.5" fill="#0404d2"/>
<circle cx="499.52" cy="985.8" r="2.5" fill="#0404d2"/>
<circle cx="507.77" cy="983.58" r="2.5" fill="#0404d2"/>
<circle cx="516.02" cy="1000.34" r="2.5" fill="#0404d2"/>
<circle cx="524.27" cy="973.4" r="2.5" fill="#0404d2"/>
<circle cx="532.52" cy="987.32" r="2.5" fill="#0404d2"/>
<circle cx="540.77" cy="1007.89" r="2.5" fill="#0404d2"/>
<circle cx="549.02" cy="996.94" r="2.5" fill="#0404d2"/>
<circle cx="557.28" cy="988.98" r="2.5" fill="#0404d2"/>
<circle cx="565.53" cy="974.16" r="2.5" fill="#0404d2"/>
<circle cx="573.78" cy="977.49" r="2.5" fill="#0404d2"/>
<circle cx="582.03" cy="980.32" r="2.5" fill="#0404d2"/>
<circle cx="590.28" cy="976.59" r="2.5" fill="#0404d2"/>
<circle cx="598.53" cy="976.59" r="2.5" fill="#0404d2"/>
<circle cx="606.78" cy="981.02" r="2.5" fill="#0404d2"/>
<circle cx="615.04" cy="973.26" r="2.5" fill="#0404d2"/>
<circle cx="623.29" cy="969.38" r="2.5" fill="#0404d2"/>
<circle cx="631.54" cy="977.49" r="2.5" fill="#0404d2"/>
<circle cx="639.79" cy="988.63" r="2.5" fill="#0404d2"/>
<circle cx="648.04" cy="971.6" r="2.5" fill="#0404d2"/>
<circle cx="656.29" cy="973.26" r="2.5" fill="#0404d2"/>
<circle cx="664.55" cy="996.32" r="2.5" fill="#0404d2"/>
<circle cx="672.8" cy="997.85" r="2.5" fill="#0404d2"/>
<circle cx="681.05" cy="959.48" r="2.5" fill="#0404d2"/>
<rect x="417" y="752.7" width="272.3" height="277" fill="none" stroke="#505050" stroke-width="1.6"/>
<rect x="417.8" y="753.5" width="156.3" height="61.7" fill="#fff"/>
<rect x="422.3" y="758" width="145.8" height="51.2" fill="#fff" stroke="#333" stroke-width="1.1"/>
<circle cx="438.5" cy="764.1" r="1.88" fill="#0404d2"/>
<path d="M430 775H447" stroke="#3030d8" stroke-width="1.6"/>
<text transform="translate(451.3,769.5) scale(0.925,1)" class="ss" font-size="9" fill="#2b2b2b" xml:space="preserve">DLBCL - 0 Joinpoints</text>
<text transform="translate(451.3,780.4) scale(0.925,1)" class="ss" font-size="9" fill="#2b2b2b" xml:space="preserve">1985.0-2016.0 APC  = 2.34*</text>
<path d="M438.5 783.83L440.45 787.28L436.55 787.28Z" fill="#3a6490"/>
<path d="M430 796.1H447" stroke="#4f80b5" stroke-width="1.6"/>
<text transform="translate(451.3,791.31) scale(0.925,1)" class="ss" font-size="9" fill="#2b2b2b" xml:space="preserve">Other NHL - 0 Joinpoints</text>
<text transform="translate(451.3,801.5) scale(0.925,1)" class="ss" font-size="9" fill="#2b2b2b" xml:space="preserve">1985.0-2016.0 APC  = 3.71*</text>
</svg>
</body></html>
